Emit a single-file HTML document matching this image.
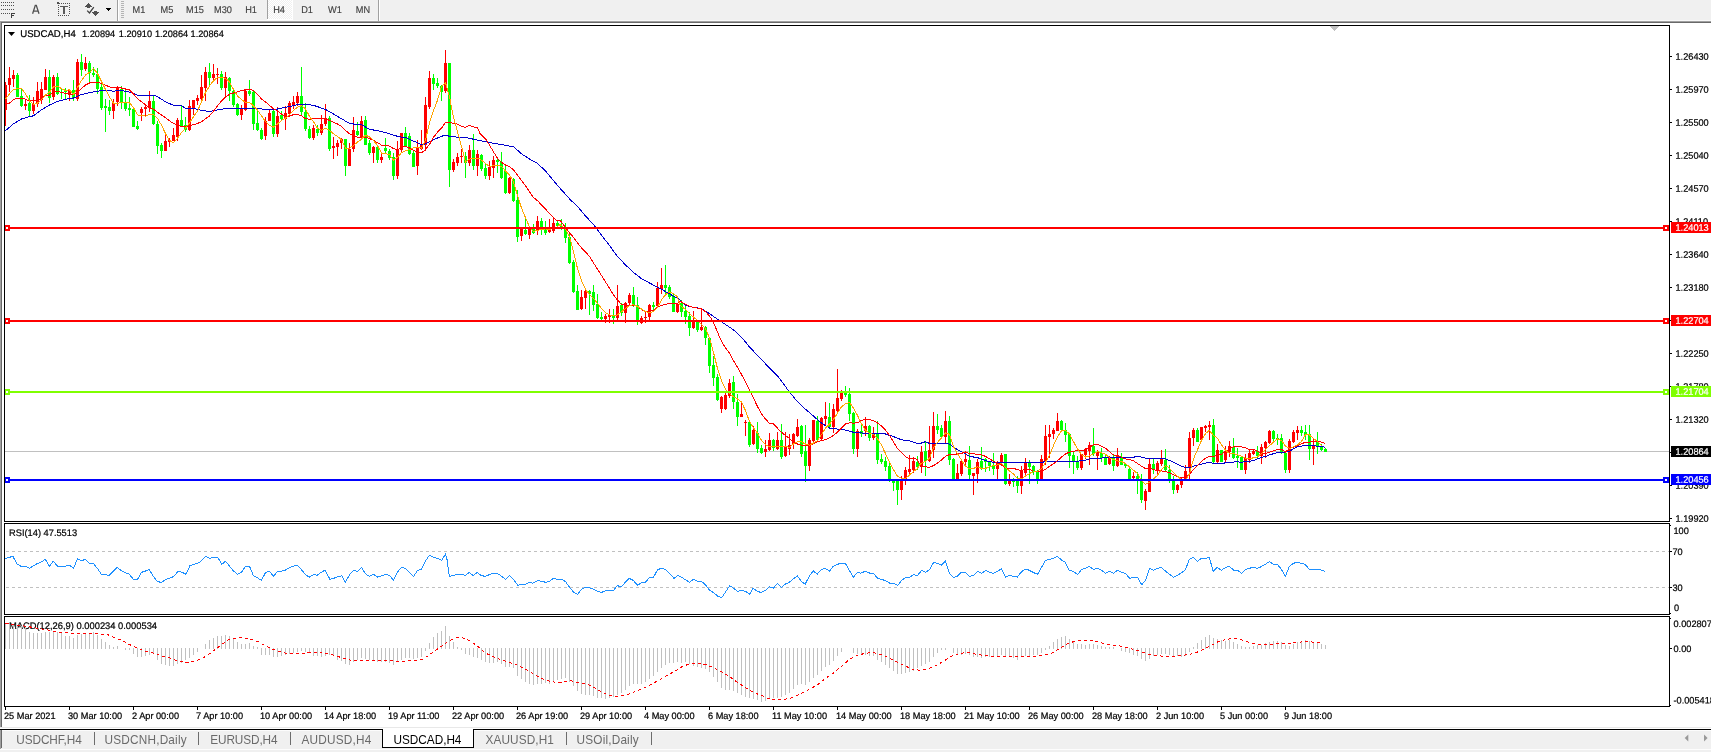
<!DOCTYPE html>
<html><head><meta charset="utf-8"><title>USDCAD,H4</title>
<style>
html,body{margin:0;padding:0;background:#fff;}
body{width:1711px;height:752px;position:relative;overflow:hidden;font-family:"Liberation Sans",sans-serif;}
#tb{position:absolute;left:0;top:0;width:1711px;height:20px;background:#f0f0f0;}
#tb1{position:absolute;left:0;top:20px;width:1711px;height:1px;background:#f8f8f8;}
#tb2{position:absolute;left:0;top:21px;width:1711px;height:1px;background:#a0a0a0;}
#tb3{position:absolute;left:0;top:22px;width:1711px;height:1px;background:#696969;}
#le0{position:absolute;left:0;top:21px;width:1px;height:706px;background:#a0a0a0;}
#le1{position:absolute;left:1px;top:22px;width:1px;height:705px;background:#696969;}
.fr{position:absolute;left:4px;width:1664px;border:1px solid #000;box-sizing:content-box;}
#f1{top:25px;height:495px;}
#f2{top:523px;height:90px;}
#f3{top:616px;height:89px;}
svg text{font-family:"Liberation Sans",sans-serif;}
#main{position:absolute;left:0;top:0;}
#tabs{position:absolute;left:0;top:727px;width:1711px;height:25px;background:#f0f0f0;}
#tabs .l0{position:absolute;left:0;top:0;width:1711px;height:1px;background:#e8e8e8;}
#tabs .l1{position:absolute;left:0;top:1px;width:1711px;height:1px;background:#fff;}
#tabs .l2{position:absolute;left:0;top:2px;width:1711px;height:1px;background:#000;}
#tabs .l3{position:absolute;left:0;top:3px;width:1711px;height:1px;background:#fcfcfc;}
#tabs .l4{position:absolute;left:0;top:22px;width:1711px;height:1px;background:#fdfdfd;}
#tabs .e0{position:absolute;left:0;top:3px;width:1px;height:19px;background:#a0a0a0;}
#tabs .e1{position:absolute;left:1px;top:3px;width:1px;height:18px;background:#696969;}
.tab{position:absolute;top:6px;font-size:11.8px;line-height:14px;color:#6a6a6a;white-space:nowrap;transform:scaleY(1.09);transform-origin:0 11px;}
.tab.act{color:#000;}
#acttab{position:absolute;left:382px;top:2px;width:90px;height:18px;background:#fff;border:1px solid #000;border-top:none;}
.sep{position:absolute;top:5px;width:1px;height:13px;background:#6d6d6d;}
.tbt{position:absolute;top:4px;font-size:10px;line-height:11px;color:#303030;width:28px;text-align:center;letter-spacing:-0.6px;will-change:transform;}
</style></head><body>
<div id="tb"></div><div id="tb1"></div><div id="tb2"></div><div id="tb3"></div>
<div id="le0"></div><div id="le1"></div>
<svg style="position:absolute;left:0;top:0" width="400" height="21" viewBox="0 0 400 21">
<g shape-rendering="crispEdges">
<path d="M1 2h1v1h-1zM3 2h1v1h-1zM5 2h1v1h-1zM7 2h1v1h-1zM9 2h1v1h-1zM11 2h1v1h-1zM13 2h1v1h-1zM1 5h1v1h-1zM3 5h1v1h-1zM5 5h1v1h-1zM7 5h1v1h-1zM9 5h1v1h-1zM11 5h1v1h-1zM13 5h1v1h-1zM1 9h1v1h-1zM3 9h1v1h-1zM5 9h1v1h-1zM7 9h1v1h-1zM9 9h1v1h-1zM11 9h1v1h-1zM13 9h1v1h-1zM1 13h1v1h-1zM3 13h1v1h-1zM5 13h1v1h-1zM7 13h1v1h-1zM9 13h1v1h-1z" fill="#505050"/>
<path d="M11 13h4v1h-3v1h2v1h-2v2h-1z" fill="#404040"/>
<path d="M61 3h1v1h-1zM63 3h1v1h-1zM65 3h1v1h-1zM67 3h1v1h-1zM69 3h1v1h-1zM58 15h1v1h-1zM60 15h1v1h-1zM62 15h1v1h-1zM64 15h1v1h-1zM66 15h1v1h-1zM68 15h1v1h-1zM58 5h1v1h-1zM69 5h1v1h-1zM58 7h1v1h-1zM69 7h1v1h-1zM58 9h1v1h-1zM69 9h1v1h-1zM58 11h1v1h-1zM69 11h1v1h-1zM58 13h1v1h-1zM69 13h1v1h-1zM57 2h2v2h-2zM59 3h1v1h-1z" fill="#505050"/>
<path d="M60 6h8v1h-3v7h-2v-7h-3z" fill="#5a5a5a"/>
<path d="M88 3h1v1h-1zM87 4h3v1h-3zM86 5h5v1h-5zM85 6h7v1h-7zM87 7h3v1h-3z" fill="#505050"/>
<path d="M94 11h3v1h-3zM92 12h7v1h-7zM93 13h5v1h-5zM94 14h3v1h-3zM95 15h1v1h-1z" fill="#505050"/>
<path d="M106 8h5v1h-5zM107 9h3v1h-3zM108 10h1v1h-1z" fill="#000"/>
<rect x="117" y="0" width="1" height="21" fill="#a0a0a0"/><rect x="118" y="0" width="1" height="21" fill="#ffffff"/>
<path d="M121 1h3v1h-3zM121 3h3v1h-3zM121 5h3v1h-3zM121 7h3v1h-3zM121 9h3v1h-3zM121 11h3v1h-3zM121 13h3v1h-3zM121 15h3v1h-3zM121 17h3v1h-3z" fill="#b4b4b4"/>
<rect x="267" y="0" width="1" height="19" fill="#a0a0a0"/>
<defs><pattern id="chk" width="2" height="2" patternUnits="userSpaceOnUse"><rect width="2" height="2" fill="#f0f0f0"/><rect width="1" height="1" fill="#fff"/><rect x="1" y="1" width="1" height="1" fill="#fff"/></pattern></defs><rect x="268" y="0" width="24" height="19" fill="url(#chk)"/>
<rect x="292" y="0" width="1" height="20" fill="#ffffff"/><rect x="267" y="19" width="26" height="1" fill="#ffffff"/>
<rect x="378" y="0" width="1" height="21" fill="#a0a0a0"/><rect x="379" y="0" width="1" height="21" fill="#ffffff"/>
</g>
<path d="M87.2 10.6l2.3 2.4 4.3-5.8" fill="none" stroke="#404040" stroke-width="1.3"/>
<path d="M32.6 13.7L35.3 5.4h1L39 13.7M33.7 11.2h4.2" stroke="#505050" stroke-width="1.3" fill="none"/>
</svg>
<svg style="position:absolute;left:0;top:0;will-change:transform" width="400" height="21" viewBox="0 0 400 21">
<text transform="translate(139 13) rotate(0.05) scale(1 1.06)" font-size="9.2" text-anchor="middle" fill="#404040" stroke="#404040" stroke-width="0.15" font-family="Liberation Sans">M1</text>
<text transform="translate(167 13) rotate(0.05) scale(1 1.06)" font-size="9.2" text-anchor="middle" fill="#404040" stroke="#404040" stroke-width="0.15" font-family="Liberation Sans">M5</text>
<text transform="translate(195 13) rotate(0.05) scale(1 1.06)" font-size="9.2" text-anchor="middle" fill="#404040" stroke="#404040" stroke-width="0.15" font-family="Liberation Sans">M15</text>
<text transform="translate(223 13) rotate(0.05) scale(1 1.06)" font-size="9.2" text-anchor="middle" fill="#404040" stroke="#404040" stroke-width="0.15" font-family="Liberation Sans">M30</text>
<text transform="translate(251 13) rotate(0.05) scale(1 1.06)" font-size="9.2" text-anchor="middle" fill="#404040" stroke="#404040" stroke-width="0.15" font-family="Liberation Sans">H1</text>
<text transform="translate(279 13) rotate(0.05) scale(1 1.06)" font-size="9.2" text-anchor="middle" fill="#404040" stroke="#404040" stroke-width="0.15" font-family="Liberation Sans">H4</text>
<text transform="translate(307 13) rotate(0.05) scale(1 1.06)" font-size="9.2" text-anchor="middle" fill="#404040" stroke="#404040" stroke-width="0.15" font-family="Liberation Sans">D1</text>
<text transform="translate(335 13) rotate(0.05) scale(1 1.06)" font-size="9.2" text-anchor="middle" fill="#404040" stroke="#404040" stroke-width="0.15" font-family="Liberation Sans">W1</text>
<text transform="translate(363 13) rotate(0.05) scale(1 1.06)" font-size="9.2" text-anchor="middle" fill="#404040" stroke="#404040" stroke-width="0.15" font-family="Liberation Sans">MN</text>
</svg>

<svg id="main" width="1711" height="752" viewBox="0 0 1711 752">
<text transform="translate(9 629) rotate(0.05) scale(1 1.02)" font-size="9.36" fill="#000" stroke="#000" stroke-width="0.22" text-anchor="start" >MACD(12,26,9) 0.000234 0.000534</text>
<g shape-rendering="crispEdges">
<rect x="5" y="451" width="1664" height="1" fill="#c0c0c0"/>
<path fill="#ff0000" d="M5 82h1v44h-1zM4 85h3v25h-3z"/><path fill="#ff0000" d="M9 67h1v25h-1zM8 78h3v7h-3z"/><path fill="#ff0000" d="M13 70h1v17h-1zM12 75h3v4h-3z"/><path fill="#00ff00" d="M17 73h1v24h-1zM16 75h3v22h-3z"/><path fill="#00ff00" d="M21 89h1v18h-1zM20 96h3v10h-3z"/><path fill="#ff0000" d="M25 99h1v11h-1zM24 104h3v2h-3z"/><path fill="#00ff00" d="M29 95h1v21h-1zM28 103h3v8h-3z"/><path fill="#ff0000" d="M33 97h1v17h-1zM32 104h3v7h-3z"/><path fill="#ff0000" d="M37 82h1v25h-1zM36 91h3v13h-3z"/><path fill="#ff0000" d="M41 82h1v22h-1zM40 89h3v11h-3z"/><path fill="#ff0000" d="M45 69h1v21h-1zM44 77h3v13h-3z"/><path fill="#00ff00" d="M49 70h1v33h-1zM48 77h3v21h-3z"/><path fill="#ff0000" d="M53 75h1v25h-1zM52 77h3v20h-3z"/><path fill="#00ff00" d="M57 73h1v22h-1zM56 77h3v17h-3z"/><path fill="#00ff00" d="M61 88h1v11h-1zM60 92h3v1h-3z"/><path fill="#00ff00" d="M65 88h1v11h-1zM64 90h3v2h-3z"/><path fill="#ff0000" d="M69 89h1v12h-1zM68 90h3v5h-3z"/><path fill="#00ff00" d="M73 80h1v21h-1zM72 90h3v8h-3z"/><path fill="#ff0000" d="M77 59h1v42h-1zM76 62h3v37h-3z"/><path fill="#00ff00" d="M81 54h1v22h-1zM80 62h3v8h-3z"/><path fill="#ff0000" d="M85 57h1v14h-1zM84 63h3v6h-3z"/><path fill="#00ff00" d="M89 61h1v22h-1zM88 63h3v10h-3z"/><path fill="#00ff00" d="M93 67h1v10h-1zM92 73h3v2h-3z"/><path fill="#00ff00" d="M97 68h1v26h-1zM96 74h3v15h-3z"/><path fill="#00ff00" d="M101 83h1v27h-1zM100 87h3v21h-3z"/><path fill="#00ff00" d="M105 99h1v33h-1zM104 106h3v2h-3z"/><path fill="#00ff00" d="M109 100h1v15h-1zM108 107h3v4h-3z"/><path fill="#ff0000" d="M113 99h1v20h-1zM112 103h3v8h-3z"/><path fill="#ff0000" d="M117 86h1v20h-1zM116 87h3v15h-3z"/><path fill="#00ff00" d="M121 86h1v23h-1zM120 89h3v14h-3z"/><path fill="#00ff00" d="M125 90h1v21h-1zM124 102h3v7h-3z"/><path fill="#00ff00" d="M129 97h1v19h-1zM128 108h3v2h-3z"/><path fill="#00ff00" d="M133 109h1v18h-1zM132 109h3v18h-3z"/><path fill="#00ff00" d="M137 121h1v9h-1zM136 126h3v3h-3z"/><path fill="#ff0000" d="M141 107h1v14h-1zM140 109h3v4h-3z"/><path fill="#ff0000" d="M145 105h1v11h-1zM144 107h3v2h-3z"/><path fill="#ff0000" d="M149 91h1v21h-1zM148 101h3v7h-3z"/><path fill="#00ff00" d="M153 96h1v29h-1zM152 101h3v23h-3z"/><path fill="#00ff00" d="M157 121h1v33h-1zM156 124h3v22h-3z"/><path fill="#00ff00" d="M161 143h1v15h-1zM160 145h3v6h-3z"/><path fill="#ff0000" d="M165 134h1v17h-1zM164 141h3v10h-3z"/><path fill="#ff0000" d="M169 138h1v9h-1zM168 140h3v2h-3z"/><path fill="#ff0000" d="M173 128h1v13h-1zM172 135h3v6h-3z"/><path fill="#ff0000" d="M177 118h1v23h-1zM176 120h3v17h-3z"/><path fill="#00ff00" d="M181 105h1v21h-1zM180 120h3v6h-3z"/><path fill="#00ff00" d="M185 117h1v15h-1zM184 125h3v5h-3z"/><path fill="#ff0000" d="M189 100h1v31h-1zM188 106h3v24h-3z"/><path fill="#ff0000" d="M193 100h1v15h-1zM192 100h3v9h-3z"/><path fill="#ff0000" d="M197 95h1v10h-1zM196 98h3v3h-3z"/><path fill="#ff0000" d="M201 75h1v26h-1zM200 87h3v12h-3z"/><path fill="#ff0000" d="M205 67h1v34h-1zM204 72h3v16h-3z"/><path fill="#00ff00" d="M209 63h1v24h-1zM208 72h3v6h-3z"/><path fill="#ff0000" d="M213 64h1v18h-1zM212 74h3v4h-3z"/><path fill="#ff0000" d="M217 68h1v16h-1zM216 74h3v1h-3z"/><path fill="#00ff00" d="M221 71h1v19h-1zM220 74h3v14h-3z"/><path fill="#ff0000" d="M225 72h1v24h-1zM224 77h3v11h-3z"/><path fill="#00ff00" d="M229 77h1v24h-1zM228 78h3v13h-3z"/><path fill="#00ff00" d="M233 89h1v18h-1zM232 91h3v14h-3z"/><path fill="#00ff00" d="M237 103h1v13h-1zM236 104h3v11h-3z"/><path fill="#ff0000" d="M241 105h1v15h-1zM240 108h3v7h-3z"/><path fill="#ff0000" d="M245 90h1v21h-1zM244 91h3v19h-3z"/><path fill="#00ff00" d="M249 80h1v16h-1zM248 91h3v3h-3z"/><path fill="#00ff00" d="M253 91h1v39h-1zM252 92h3v32h-3z"/><path fill="#00ff00" d="M257 109h1v22h-1zM256 123h3v7h-3z"/><path fill="#00ff00" d="M261 128h1v12h-1zM260 130h3v9h-3z"/><path fill="#ff0000" d="M265 117h1v23h-1zM264 121h3v15h-3z"/><path fill="#ff0000" d="M269 110h1v11h-1zM268 113h3v8h-3z"/><path fill="#00ff00" d="M273 109h1v28h-1zM272 111h3v23h-3z"/><path fill="#ff0000" d="M277 107h1v30h-1zM276 116h3v18h-3z"/><path fill="#00ff00" d="M281 111h1v10h-1zM280 115h3v4h-3z"/><path fill="#ff0000" d="M285 106h1v24h-1zM284 113h3v6h-3z"/><path fill="#ff0000" d="M289 101h1v16h-1zM288 103h3v11h-3z"/><path fill="#ff0000" d="M293 96h1v13h-1zM292 102h3v3h-3z"/><path fill="#ff0000" d="M297 92h1v14h-1zM296 96h3v7h-3z"/><path fill="#00ff00" d="M301 67h1v48h-1zM300 96h3v16h-3z"/><path fill="#00ff00" d="M305 103h1v28h-1zM304 112h3v17h-3z"/><path fill="#00ff00" d="M309 126h1v13h-1zM308 129h3v9h-3z"/><path fill="#ff0000" d="M313 125h1v15h-1zM312 128h3v10h-3z"/><path fill="#00ff00" d="M317 125h1v11h-1zM316 129h3v4h-3z"/><path fill="#ff0000" d="M321 115h1v20h-1zM320 124h3v9h-3z"/><path fill="#ff0000" d="M325 104h1v22h-1zM324 118h3v6h-3z"/><path fill="#00ff00" d="M329 116h1v35h-1zM328 118h3v31h-3z"/><path fill="#ff0000" d="M333 137h1v22h-1zM332 146h3v2h-3z"/><path fill="#ff0000" d="M337 140h1v16h-1zM336 143h3v4h-3z"/><path fill="#ff0000" d="M341 138h1v11h-1zM340 139h3v4h-3z"/><path fill="#00ff00" d="M345 139h1v37h-1zM344 139h3v27h-3z"/><path fill="#ff0000" d="M349 143h1v23h-1zM348 149h3v17h-3z"/><path fill="#ff0000" d="M353 117h1v35h-1zM352 130h3v19h-3z"/><path fill="#00ff00" d="M357 122h1v14h-1zM356 131h3v4h-3z"/><path fill="#ff0000" d="M361 116h1v21h-1zM360 121h3v16h-3z"/><path fill="#00ff00" d="M365 116h1v29h-1zM364 120h3v25h-3z"/><path fill="#00ff00" d="M369 140h1v15h-1zM368 143h3v10h-3z"/><path fill="#ff0000" d="M373 146h1v17h-1zM372 147h3v6h-3z"/><path fill="#00ff00" d="M377 146h1v17h-1zM376 147h3v13h-3z"/><path fill="#ff0000" d="M381 153h1v10h-1zM380 157h3v3h-3z"/><path fill="#00ff00" d="M385 138h1v15h-1zM384 148h3v3h-3z"/><path fill="#00ff00" d="M389 149h1v11h-1zM388 151h3v7h-3z"/><path fill="#00ff00" d="M393 153h1v27h-1zM392 157h3v19h-3z"/><path fill="#ff0000" d="M397 141h1v38h-1zM396 150h3v26h-3z"/><path fill="#ff0000" d="M401 133h1v20h-1zM400 133h3v17h-3z"/><path fill="#00ff00" d="M405 127h1v19h-1zM404 133h3v13h-3z"/><path fill="#00ff00" d="M409 133h1v22h-1zM408 136h3v18h-3z"/><path fill="#00ff00" d="M413 150h1v17h-1zM412 153h3v14h-3z"/><path fill="#ff0000" d="M417 140h1v35h-1zM416 148h3v18h-3z"/><path fill="#ff0000" d="M421 130h1v20h-1zM420 144h3v5h-3z"/><path fill="#ff0000" d="M425 97h1v54h-1zM424 105h3v40h-3z"/><path fill="#ff0000" d="M429 71h1v38h-1zM428 78h3v29h-3z"/><path fill="#00ff00" d="M433 74h1v16h-1zM432 78h3v6h-3z"/><path fill="#00ff00" d="M437 78h1v10h-1zM436 83h3v3h-3z"/><path fill="#00ff00" d="M441 85h1v16h-1zM440 86h3v6h-3z"/><path fill="#ff0000" d="M445 50h1v43h-1zM444 63h3v28h-3z"/><path fill="#00ff00" d="M449 63h1v124h-1zM448 63h3v107h-3z"/><path fill="#ff0000" d="M453 159h1v13h-1zM452 162h3v8h-3z"/><path fill="#ff0000" d="M457 153h1v13h-1zM456 157h3v6h-3z"/><path fill="#ff0000" d="M461 149h1v14h-1zM460 156h3v1h-3z"/><path fill="#00ff00" d="M465 152h1v26h-1zM464 156h3v7h-3z"/><path fill="#ff0000" d="M469 145h1v21h-1zM468 150h3v13h-3z"/><path fill="#00ff00" d="M473 134h1v36h-1zM472 150h3v16h-3z"/><path fill="#ff0000" d="M477 150h1v26h-1zM476 154h3v12h-3z"/><path fill="#00ff00" d="M481 154h1v17h-1zM480 155h3v14h-3z"/><path fill="#00ff00" d="M485 164h1v15h-1zM484 168h3v8h-3z"/><path fill="#ff0000" d="M489 161h1v19h-1zM488 167h3v9h-3z"/><path fill="#ff0000" d="M493 156h1v22h-1zM492 160h3v8h-3z"/><path fill="#00ff00" d="M497 157h1v16h-1zM496 160h3v2h-3z"/><path fill="#00ff00" d="M501 152h1v27h-1zM500 162h3v16h-3z"/><path fill="#00ff00" d="M505 165h1v29h-1zM504 171h3v22h-3z"/><path fill="#ff0000" d="M509 177h1v17h-1zM508 178h3v15h-3z"/><path fill="#00ff00" d="M513 178h1v24h-1zM512 179h3v22h-3z"/><path fill="#00ff00" d="M517 190h1v52h-1zM516 200h3v37h-3z"/><path fill="#ff0000" d="M521 228h1v13h-1zM520 229h3v7h-3z"/><path fill="#00ff00" d="M525 219h1v16h-1zM524 230h3v4h-3z"/><path fill="#ff0000" d="M529 226h1v13h-1zM528 227h3v8h-3z"/><path fill="#00ff00" d="M533 224h1v10h-1zM532 229h3v4h-3z"/><path fill="#ff0000" d="M537 216h1v19h-1zM536 221h3v10h-3z"/><path fill="#00ff00" d="M541 218h1v17h-1zM540 221h3v7h-3z"/><path fill="#00ff00" d="M545 221h1v14h-1zM544 228h3v5h-3z"/><path fill="#ff0000" d="M549 219h1v14h-1zM548 230h3v2h-3z"/><path fill="#ff0000" d="M553 218h1v15h-1zM552 223h3v8h-3z"/><path fill="#00ff00" d="M557 220h1v8h-1zM556 223h3v3h-3z"/><path fill="#00ff00" d="M561 219h1v11h-1zM560 226h3v2h-3z"/><path fill="#00ff00" d="M565 223h1v20h-1zM564 227h3v11h-3z"/><path fill="#00ff00" d="M569 232h1v32h-1zM568 237h3v26h-3z"/><path fill="#00ff00" d="M573 260h1v33h-1zM572 262h3v30h-3z"/><path fill="#00ff00" d="M577 285h1v25h-1zM576 291h3v19h-3z"/><path fill="#ff0000" d="M581 290h1v20h-1zM580 297h3v12h-3z"/><path fill="#ff0000" d="M585 290h1v19h-1zM584 291h3v7h-3z"/><path fill="#00ff00" d="M589 290h1v25h-1zM588 291h3v3h-3z"/><path fill="#00ff00" d="M593 285h1v26h-1zM592 292h3v13h-3z"/><path fill="#00ff00" d="M597 294h1v25h-1zM596 304h3v14h-3z"/><path fill="#00ff00" d="M601 312h1v8h-1zM600 317h3v2h-3z"/><path fill="#ff0000" d="M605 314h1v9h-1zM604 316h3v3h-3z"/><path fill="#ff0000" d="M609 309h1v14h-1zM608 315h3v2h-3z"/><path fill="#00ff00" d="M613 309h1v15h-1zM612 315h3v3h-3z"/><path fill="#ff0000" d="M617 285h1v37h-1zM616 306h3v12h-3z"/><path fill="#00ff00" d="M621 303h1v13h-1zM620 305h3v8h-3z"/><path fill="#ff0000" d="M625 302h1v21h-1zM624 303h3v10h-3z"/><path fill="#ff0000" d="M629 293h1v13h-1zM628 295h3v8h-3z"/><path fill="#00ff00" d="M633 287h1v20h-1zM632 295h3v11h-3z"/><path fill="#00ff00" d="M637 297h1v28h-1zM636 305h3v17h-3z"/><path fill="#ff0000" d="M641 316h1v8h-1zM640 318h3v5h-3z"/><path fill="#ff0000" d="M645 312h1v11h-1zM644 317h3v1h-3z"/><path fill="#ff0000" d="M649 304h1v16h-1zM648 305h3v12h-3z"/><path fill="#00ff00" d="M653 302h1v8h-1zM652 305h3v2h-3z"/><path fill="#ff0000" d="M657 282h1v25h-1zM656 288h3v18h-3z"/><path fill="#ff0000" d="M661 268h1v26h-1zM660 285h3v4h-3z"/><path fill="#00ff00" d="M665 265h1v29h-1zM664 285h3v3h-3z"/><path fill="#00ff00" d="M669 285h1v14h-1zM668 287h3v10h-3z"/><path fill="#00ff00" d="M673 293h1v19h-1zM672 296h3v16h-3z"/><path fill="#ff0000" d="M677 303h1v10h-1zM676 304h3v8h-3z"/><path fill="#00ff00" d="M681 300h1v17h-1zM680 303h3v9h-3z"/><path fill="#00ff00" d="M685 305h1v19h-1zM684 311h3v6h-3z"/><path fill="#00ff00" d="M689 312h1v24h-1zM688 316h3v12h-3z"/><path fill="#ff0000" d="M693 311h1v18h-1zM692 321h3v7h-3z"/><path fill="#00ff00" d="M697 320h1v12h-1zM696 321h3v9h-3z"/><path fill="#ff0000" d="M701 310h1v21h-1zM700 327h3v3h-3z"/><path fill="#00ff00" d="M705 326h1v19h-1zM704 327h3v11h-3z"/><path fill="#00ff00" d="M709 337h1v36h-1zM708 338h3v28h-3z"/><path fill="#00ff00" d="M713 356h1v30h-1zM712 365h3v13h-3z"/><path fill="#00ff00" d="M717 374h1v27h-1zM716 377h3v23h-3z"/><path fill="#ff0000" d="M721 396h1v17h-1zM720 397h3v12h-3z"/><path fill="#ff0000" d="M725 393h1v17h-1zM724 395h3v14h-3z"/><path fill="#ff0000" d="M729 379h1v19h-1zM728 383h3v13h-3z"/><path fill="#00ff00" d="M733 376h1v33h-1zM732 382h3v20h-3z"/><path fill="#00ff00" d="M737 394h1v32h-1zM736 402h3v15h-3z"/><path fill="#ff0000" d="M741 402h1v15h-1zM740 414h3v3h-3z"/><path fill="#ff0000" d="M745 420h1v16h-1zM744 422h3v1h-3z"/><path fill="#00ff00" d="M749 421h1v26h-1zM748 422h3v23h-3z"/><path fill="#ff0000" d="M753 426h1v19h-1zM752 430h3v14h-3z"/><path fill="#00ff00" d="M757 422h1v31h-1zM756 433h3v16h-3z"/><path fill="#00ff00" d="M761 445h1v9h-1zM760 448h3v5h-3z"/><path fill="#ff0000" d="M765 440h1v17h-1zM764 449h3v3h-3z"/><path fill="#ff0000" d="M769 433h1v18h-1zM768 440h3v10h-3z"/><path fill="#00ff00" d="M773 439h1v12h-1zM772 440h3v8h-3z"/><path fill="#ff0000" d="M777 432h1v18h-1zM776 440h3v9h-3z"/><path fill="#00ff00" d="M781 424h1v35h-1zM780 440h3v17h-3z"/><path fill="#ff0000" d="M785 432h1v25h-1zM784 447h3v9h-3z"/><path fill="#ff0000" d="M789 434h1v21h-1zM788 445h3v4h-3z"/><path fill="#ff0000" d="M793 433h1v16h-1zM792 434h3v10h-3z"/><path fill="#ff0000" d="M797 419h1v18h-1zM796 427h3v9h-3z"/><path fill="#00ff00" d="M801 425h1v32h-1zM800 426h3v28h-3z"/><path fill="#00ff00" d="M805 425h1v57h-1zM804 451h3v15h-3z"/><path fill="#ff0000" d="M809 438h1v33h-1zM808 440h3v26h-3z"/><path fill="#ff0000" d="M813 420h1v22h-1zM812 420h3v21h-3z"/><path fill="#00ff00" d="M817 416h1v26h-1zM816 421h3v19h-3z"/><path fill="#ff0000" d="M821 417h1v23h-1zM820 418h3v21h-3z"/><path fill="#ff0000" d="M825 402h1v23h-1zM824 416h3v3h-3z"/><path fill="#00ff00" d="M829 403h1v26h-1zM828 417h3v10h-3z"/><path fill="#ff0000" d="M833 404h1v29h-1zM832 409h3v18h-3z"/><path fill="#ff0000" d="M837 369h1v45h-1zM836 398h3v13h-3z"/><path fill="#ff0000" d="M841 390h1v11h-1zM840 392h3v7h-3z"/><path fill="#00ff00" d="M845 386h1v11h-1zM844 392h3v3h-3z"/><path fill="#00ff00" d="M849 388h1v33h-1zM848 394h3v20h-3z"/><path fill="#00ff00" d="M853 412h1v42h-1zM852 413h3v36h-3z"/><path fill="#ff0000" d="M857 429h1v28h-1zM856 431h3v18h-3z"/><path fill="#00ff00" d="M861 425h1v12h-1zM860 431h3v3h-3z"/><path fill="#ff0000" d="M865 417h1v19h-1zM864 426h3v5h-3z"/><path fill="#00ff00" d="M869 425h1v16h-1zM868 426h3v12h-3z"/><path fill="#ff0000" d="M873 427h1v13h-1zM872 433h3v5h-3z"/><path fill="#00ff00" d="M877 421h1v43h-1zM876 433h3v27h-3z"/><path fill="#00ff00" d="M881 454h1v10h-1zM880 459h3v3h-3z"/><path fill="#00ff00" d="M885 457h1v14h-1zM884 461h3v6h-3z"/><path fill="#00ff00" d="M889 462h1v20h-1zM888 466h3v13h-3z"/><path fill="#00ff00" d="M893 480h1v11h-1zM892 481h3v2h-3z"/><path fill="#00ff00" d="M897 480h1v25h-1zM896 481h3v9h-3z"/><path fill="#ff0000" d="M901 476h1v24h-1zM900 480h3v10h-3z"/><path fill="#ff0000" d="M905 467h1v18h-1zM904 470h3v9h-3z"/><path fill="#ff0000" d="M909 455h1v21h-1zM908 469h3v3h-3z"/><path fill="#ff0000" d="M913 458h1v15h-1zM912 461h3v9h-3z"/><path fill="#00ff00" d="M917 456h1v14h-1zM916 462h3v5h-3z"/><path fill="#ff0000" d="M921 446h1v27h-1zM920 452h3v15h-3z"/><path fill="#00ff00" d="M925 441h1v35h-1zM924 451h3v10h-3z"/><path fill="#ff0000" d="M929 426h1v36h-1zM928 450h3v11h-3z"/><path fill="#ff0000" d="M933 412h1v46h-1zM932 426h3v24h-3z"/><path fill="#00ff00" d="M937 414h1v20h-1zM936 426h3v4h-3z"/><path fill="#00ff00" d="M941 425h1v14h-1zM940 428h3v9h-3z"/><path fill="#ff0000" d="M945 411h1v32h-1zM944 421h3v16h-3z"/><path fill="#00ff00" d="M949 416h1v49h-1zM948 421h3v39h-3z"/><path fill="#00ff00" d="M953 458h1v21h-1zM952 459h3v20h-3z"/><path fill="#ff0000" d="M957 464h1v15h-1zM956 473h3v6h-3z"/><path fill="#ff0000" d="M961 460h1v16h-1zM960 461h3v13h-3z"/><path fill="#ff0000" d="M965 451h1v15h-1zM964 459h3v3h-3z"/><path fill="#00ff00" d="M969 446h1v33h-1zM968 460h3v15h-3z"/><path fill="#ff0000" d="M973 473h1v22h-1zM972 473h3v3h-3z"/><path fill="#ff0000" d="M977 459h1v24h-1zM976 462h3v12h-3z"/><path fill="#00ff00" d="M981 447h1v23h-1zM980 461h3v8h-3z"/><path fill="#00ff00" d="M985 458h1v14h-1zM984 459h3v3h-3z"/><path fill="#00ff00" d="M989 461h1v10h-1zM988 461h3v5h-3z"/><path fill="#00ff00" d="M993 453h1v22h-1zM992 466h3v3h-3z"/><path fill="#ff0000" d="M997 461h1v18h-1zM996 462h3v7h-3z"/><path fill="#ff0000" d="M1001 453h1v12h-1zM1000 455h3v7h-3z"/><path fill="#00ff00" d="M1005 454h1v31h-1zM1004 454h3v30h-3z"/><path fill="#ff0000" d="M1009 474h1v12h-1zM1008 481h3v3h-3z"/><path fill="#00ff00" d="M1013 478h1v9h-1zM1012 481h3v1h-3z"/><path fill="#00ff00" d="M1017 476h1v17h-1zM1016 481h3v5h-3z"/><path fill="#ff0000" d="M1021 466h1v28h-1zM1020 471h3v15h-3z"/><path fill="#ff0000" d="M1025 458h1v17h-1zM1024 462h3v11h-3z"/><path fill="#00ff00" d="M1029 460h1v24h-1zM1028 463h3v4h-3z"/><path fill="#00ff00" d="M1033 465h1v10h-1zM1032 466h3v6h-3z"/><path fill="#00ff00" d="M1037 470h1v14h-1zM1036 471h3v8h-3z"/><path fill="#ff0000" d="M1041 455h1v24h-1zM1040 459h3v20h-3z"/><path fill="#ff0000" d="M1045 425h1v40h-1zM1044 436h3v26h-3z"/><path fill="#ff0000" d="M1049 425h1v33h-1zM1048 434h3v3h-3z"/><path fill="#ff0000" d="M1053 428h1v11h-1zM1052 430h3v4h-3z"/><path fill="#ff0000" d="M1057 413h1v18h-1zM1056 421h3v10h-3z"/><path fill="#00ff00" d="M1061 420h1v11h-1zM1060 421h3v9h-3z"/><path fill="#00ff00" d="M1065 423h1v19h-1zM1064 430h3v5h-3z"/><path fill="#00ff00" d="M1069 434h1v34h-1zM1068 434h3v22h-3z"/><path fill="#00ff00" d="M1073 452h1v22h-1zM1072 455h3v6h-3z"/><path fill="#00ff00" d="M1077 456h1v14h-1zM1076 461h3v7h-3z"/><path fill="#ff0000" d="M1081 454h1v16h-1zM1080 454h3v14h-3z"/><path fill="#ff0000" d="M1085 448h1v11h-1zM1084 450h3v5h-3z"/><path fill="#ff0000" d="M1089 442h1v23h-1zM1088 445h3v6h-3z"/><path fill="#00ff00" d="M1093 428h1v28h-1zM1092 446h3v8h-3z"/><path fill="#ff0000" d="M1097 450h1v20h-1zM1096 452h3v4h-3z"/><path fill="#00ff00" d="M1101 448h1v14h-1zM1100 453h3v5h-3z"/><path fill="#00ff00" d="M1105 454h1v11h-1zM1104 458h3v7h-3z"/><path fill="#ff0000" d="M1109 456h1v9h-1zM1108 458h3v6h-3z"/><path fill="#00ff00" d="M1113 454h1v17h-1zM1112 458h3v8h-3z"/><path fill="#ff0000" d="M1117 448h1v19h-1zM1116 455h3v11h-3z"/><path fill="#00ff00" d="M1121 453h1v12h-1zM1120 458h3v7h-3z"/><path fill="#00ff00" d="M1125 463h1v5h-1zM1124 464h3v2h-3z"/><path fill="#00ff00" d="M1129 467h1v12h-1zM1128 469h3v10h-3z"/><path fill="#ff0000" d="M1133 472h1v7h-1zM1132 476h3v2h-3z"/><path fill="#00ff00" d="M1137 472h1v22h-1zM1136 476h3v3h-3z"/><path fill="#00ff00" d="M1141 474h1v29h-1zM1140 479h3v21h-3z"/><path fill="#ff0000" d="M1145 489h1v21h-1zM1144 491h3v10h-3z"/><path fill="#ff0000" d="M1149 459h1v33h-1zM1148 464h3v28h-3z"/><path fill="#00ff00" d="M1153 459h1v15h-1zM1152 464h3v6h-3z"/><path fill="#ff0000" d="M1157 461h1v13h-1zM1156 463h3v8h-3z"/><path fill="#ff0000" d="M1161 450h1v16h-1zM1160 458h3v6h-3z"/><path fill="#00ff00" d="M1165 449h1v22h-1zM1164 460h3v10h-3z"/><path fill="#00ff00" d="M1169 465h1v18h-1zM1168 470h3v9h-3z"/><path fill="#00ff00" d="M1173 476h1v18h-1zM1172 480h3v10h-3z"/><path fill="#ff0000" d="M1177 484h1v9h-1zM1176 485h3v5h-3z"/><path fill="#ff0000" d="M1181 477h1v11h-1zM1180 480h3v5h-3z"/><path fill="#ff0000" d="M1185 465h1v15h-1zM1184 471h3v8h-3z"/><path fill="#ff0000" d="M1189 432h1v47h-1zM1188 438h3v29h-3z"/><path fill="#ff0000" d="M1193 428h1v18h-1zM1192 430h3v8h-3z"/><path fill="#00ff00" d="M1197 428h1v14h-1zM1196 430h3v12h-3z"/><path fill="#ff0000" d="M1201 427h1v14h-1zM1200 427h3v13h-3z"/><path fill="#ff0000" d="M1205 425h1v7h-1zM1204 426h3v2h-3z"/><path fill="#ff0000" d="M1209 421h1v19h-1zM1208 425h3v2h-3z"/><path fill="#00ff00" d="M1213 419h1v44h-1zM1212 425h3v37h-3z"/><path fill="#ff0000" d="M1217 444h1v19h-1zM1216 450h3v12h-3z"/><path fill="#00ff00" d="M1221 450h1v12h-1zM1220 450h3v12h-3z"/><path fill="#ff0000" d="M1225 446h1v16h-1zM1224 451h3v9h-3z"/><path fill="#ff0000" d="M1229 441h1v16h-1zM1228 446h3v6h-3z"/><path fill="#00ff00" d="M1233 438h1v21h-1zM1232 447h3v11h-3z"/><path fill="#00ff00" d="M1237 448h1v20h-1zM1236 456h3v2h-3z"/><path fill="#00ff00" d="M1241 456h1v14h-1zM1240 457h3v13h-3z"/><path fill="#ff0000" d="M1245 454h1v20h-1zM1244 458h3v12h-3z"/><path fill="#ff0000" d="M1249 450h1v13h-1zM1248 453h3v7h-3z"/><path fill="#ff0000" d="M1253 449h1v6h-1zM1252 451h3v3h-3z"/><path fill="#00ff00" d="M1257 446h1v12h-1zM1256 451h3v5h-3z"/><path fill="#ff0000" d="M1261 444h1v20h-1zM1260 447h3v9h-3z"/><path fill="#ff0000" d="M1265 441h1v17h-1zM1264 442h3v6h-3z"/><path fill="#ff0000" d="M1269 430h1v14h-1zM1268 431h3v12h-3z"/><path fill="#00ff00" d="M1273 430h1v12h-1zM1272 431h3v8h-3z"/><path fill="#00ff00" d="M1277 434h1v11h-1zM1276 438h3v2h-3z"/><path fill="#00ff00" d="M1281 434h1v20h-1zM1280 438h3v14h-3z"/><path fill="#00ff00" d="M1285 452h1v21h-1zM1284 453h3v17h-3z"/><path fill="#ff0000" d="M1289 439h1v34h-1zM1288 441h3v29h-3z"/><path fill="#ff0000" d="M1293 430h1v13h-1zM1292 432h3v10h-3z"/><path fill="#ff0000" d="M1297 426h1v14h-1zM1296 430h3v3h-3z"/><path fill="#00ff00" d="M1301 426h1v10h-1zM1300 430h3v3h-3z"/><path fill="#00ff00" d="M1305 425h1v15h-1zM1304 432h3v3h-3z"/><path fill="#00ff00" d="M1309 425h1v35h-1zM1308 434h3v15h-3z"/><path fill="#ff0000" d="M1313 439h1v26h-1zM1312 446h3v3h-3z"/><path fill="#00ff00" d="M1317 432h1v22h-1zM1316 442h3v5h-3z"/><path fill="#00ff00" d="M1321 444h1v7h-1zM1320 447h3v3h-3z"/><path fill="#00ff00" d="M1325 448h1v4h-1zM1324 449h3v3h-3z"/>
</g>
<g shape-rendering="crispEdges">
<polyline points="5.5,130.7 13.5,123.7 21.5,119.0 29.5,116.7 33.5,115.8 41.5,109.7 49.5,105.0 57.5,101.5 65.5,99.2 73.5,98.0 81.5,94.5 89.5,92.7 97.5,91.2 105.4,90.4 113.5,91.2 121.5,90.4 129.4,92.1 137.5,95.1 149.5,95.1 154.4,95.1 157.6,96.9 165.5,101.7 173.5,105.4 181.5,105.7 185.5,108.3 193.5,108.3 197.4,109.5 201.5,110.2 209.5,111.5 217.4,110.0 225.5,108.5 233.5,108.6 241.4,108.8 249.5,108.5 257.5,108.5 265.4,109.4 273.5,109.8 281.5,108.2 289.4,106.5 297.5,104.7 305.5,104.4 313.5,105.3 321.4,108.0 325.5,109.4 333.5,114.0 341.4,118.7 349.5,123.4 357.5,124.6 361.5,124.6 369.5,129.3 377.5,130.7 385.4,132.5 393.5,135.1 397.5,136.3 401.5,137.2 405.5,137.2 413.4,141.0 421.5,144.5 425.5,143.9 433.4,139.8 441.5,136.3 445.5,135.1 449.5,136.3 457.4,137.2 465.5,137.4 473.4,139.2 479.5,140.5 492.8,143.2 505.5,145.3 514.0,147.0 521.5,153.8 529.6,159.1 537.4,163.4 545.5,170.9 553.4,180.4 558.7,186.8 570.6,200.0 577.4,206.4 585.5,216.0 593.4,224.5 601.5,235.1 609.6,245.7 617.4,256.4 625.5,264.9 633.4,272.3 641.5,278.7 649.6,283.0 657.4,287.2 665.5,291.5 673.4,296.2 679.1,299.1 685.5,305.3 693.4,307.4 701.5,308.5 709.6,313.8 717.4,319.1 725.5,324.5 733.4,329.8 741.5,337.2 749.4,346.8 757.4,355.3 765.5,363.8 769.6,368.1 778.5,377.0 787.0,388.7 795.5,399.4 804.0,407.9 812.6,415.3 821.1,422.8 829.6,428.1 838.1,429.1 846.6,430.2 853.4,432.3 861.5,433.0 869.6,433.4 877.4,433.4 885.5,434.0 893.4,436.6 901.5,439.8 909.6,440.9 917.4,443.4 920.0,443.5 925.5,441.7 929.5,443.5 937.5,443.5 945.4,443.5 949.5,444.1 957.6,449.7 965.5,453.9 969.5,456.4 977.5,457.6 985.5,460.7 993.5,462.3 1001.5,462.3 1009.6,462.3 1017.5,462.5 1025.5,462.5 1033.5,462.5 1041.5,462.5 1045.5,461.5 1053.5,461.5 1061.5,461.5 1069.5,461.3 1077.6,461.3 1081.5,460.4 1085.5,460.3 1089.6,458.8 1093.5,458.2 1097.5,458.5 1109.4,457.3 1117.6,457.3 1125.5,457.8 1133.5,457.3 1137.5,456.2 1145.5,458.2 1153.5,458.2 1161.4,458.2 1165.6,458.9 1173.5,462.2 1181.5,466.2 1185.5,467.5 1189.5,467.5 1193.5,466.2 1201.5,464.2 1209.4,462.2 1213.6,463.5 1221.5,463.5 1229.5,462.2 1233.5,462.2 1237.5,461.3 1240.0,462.7 1245.5,461.3 1249.5,461.3 1253.5,460.5 1257.5,458.9 1261.5,457.3 1265.5,456.5 1269.5,454.9 1273.5,453.7 1277.5,452.5 1281.5,452.1 1285.5,452.1 1289.5,451.3 1293.5,448.9 1297.5,446.9 1301.5,446.1 1305.5,445.2 1309.5,445.2 1313.5,445.2 1317.5,446.3 1321.5,446.3 1324.6,447.3" fill="none" stroke="#0000cd" stroke-width="1" />
<polyline points="5.5,103.8 9.4,103.2 13.5,99.7 17.6,98.2 21.5,98.2 25.5,99.2 29.5,101.1 33.5,100.3 37.4,100.3 41.5,98.0 45.5,95.6 49.5,95.1 53.5,92.7 57.5,91.2 61.4,92.7 65.5,93.3 69.5,94.2 73.5,94.2 77.5,92.7 81.5,88.6 85.4,85.1 89.5,83.0 93.5,82.2 97.5,82.2 101.5,83.6 105.4,85.1 109.4,86.9 113.5,88.0 117.5,87.2 121.5,88.0 125.5,89.0 129.4,89.8 133.4,93.9 137.5,98.6 145.5,104.9 149.5,107.6 153.5,109.1 157.6,112.3 161.5,115.0 165.5,117.7 169.5,120.9 173.5,123.5 177.4,125.1 181.5,126.7 185.5,127.0 189.5,125.6 193.5,124.6 197.4,123.5 201.5,121.7 205.5,118.8 209.5,115.9 213.5,111.2 217.4,105.9 221.4,101.2 225.5,97.1 229.5,94.2 233.5,93.0 237.5,91.9 241.4,90.7 245.5,89.8 249.5,89.2 253.5,90.7 257.5,94.2 261.5,98.9 265.4,101.8 269.5,105.3 273.5,108.8 277.5,110.6 281.5,114.1 285.4,117.0 289.4,115.9 293.5,114.7 297.5,114.4 301.5,115.8 305.5,118.7 309.5,119.3 313.5,118.7 317.4,118.1 321.4,118.1 325.5,118.5 329.5,120.5 333.5,122.2 337.5,124.0 341.4,126.3 345.5,130.4 349.5,133.9 353.5,135.1 357.5,137.4 361.5,137.4 365.4,137.2 369.5,138.6 373.5,140.4 377.5,142.7 381.5,145.1 385.4,145.1 389.4,146.2 393.5,148.6 397.5,149.7 401.5,147.4 405.5,146.6 409.4,148.0 413.4,150.3 417.5,152.1 421.5,152.7 425.5,149.7 429.4,144.5 433.4,137.4 437.5,132.2 441.5,128.1 445.5,122.6 449.5,122.2 453.4,123.4 457.4,124.0 461.5,126.3 465.5,127.5 469.5,125.2 473.4,126.9 477.4,127.5 480.0,133.6 486.4,140.0 489.6,145.3 493.4,151.7 497.4,158.1 501.5,162.3 505.5,165.1 509.6,166.6 513.4,169.8 517.4,175.1 521.5,180.4 525.5,185.7 529.6,192.1 533.4,197.4 537.4,200.6 541.5,204.9 545.5,209.1 549.4,213.4 553.4,217.7 557.4,220.9 560.0,220.2 565.5,227.7 569.6,233.0 573.4,237.2 577.4,242.6 581.5,247.9 585.5,252.1 589.6,256.4 593.4,262.8 597.4,269.1 601.5,275.5 605.5,281.9 609.6,288.3 613.4,294.7 617.4,300.0 621.5,304.3 625.5,305.3 629.4,305.3 633.4,305.3 637.4,306.4 641.5,309.6 645.5,311.7 649.6,311.7 653.4,310.2 657.4,307.4 661.5,305.3 665.5,304.3 669.6,303.2 673.4,303.2 677.4,303.6 680.0,301.1 685.5,304.3 689.6,306.4 693.4,307.4 697.4,308.1 701.5,308.9 705.5,311.7 709.6,316.0 713.4,322.3 717.4,331.9 721.5,341.5 725.5,347.9 729.6,353.2 733.4,360.6 737.4,367.0 741.5,374.5 745.5,381.9 749.4,389.4 753.4,397.9 757.4,406.4 761.5,413.8 765.5,419.1 769.6,423.4 773.4,423.8 777.4,428.1 781.5,432.3 785.5,435.5 789.6,438.7 793.4,441.9 797.4,444.0 801.5,445.1 805.5,445.7 809.6,445.7 813.4,444.0 817.4,441.9 821.5,440.4 825.5,439.8 829.6,437.7 833.4,435.5 837.4,432.3 841.5,428.1 845.5,423.8 849.6,422.8 853.4,423.2 857.4,422.8 861.5,420.2 865.5,419.6 869.6,419.6 873.4,420.6 877.4,422.8 881.5,426.0 885.5,430.2 889.6,435.5 893.4,441.9 897.4,448.3 901.5,452.6 905.5,456.8 909.6,458.9 913.4,457.9 917.4,459.6 920.0,465.6 925.5,466.8 929.5,467.4 933.5,465.6 937.5,463.1 941.5,460.1 945.4,456.4 949.5,454.5 953.5,454.3 957.6,453.9 961.5,453.3 965.5,452.1 969.5,453.6 973.5,453.9 977.5,454.3 981.5,454.9 985.5,456.4 989.5,458.8 993.5,461.3 997.6,463.1 1001.5,464.9 1005.5,468.0 1009.6,468.2 1013.5,468.2 1017.5,469.8 1021.5,470.5 1025.5,469.2 1029.5,469.5 1033.5,471.1 1037.6,471.3 1041.5,471.1 1045.5,469.2 1049.6,466.2 1053.5,463.7 1057.5,460.7 1061.5,457.0 1065.6,453.9 1069.5,452.1 1073.5,451.2 1077.6,450.5 1081.5,450.5 1085.5,449.7 1089.6,447.2 1093.5,444.8 1097.5,444.1 1105.5,448.2 1109.4,451.6 1113.4,454.9 1117.6,455.6 1121.5,457.3 1125.5,458.9 1129.5,459.5 1133.5,460.9 1137.5,463.5 1141.5,466.2 1145.5,468.5 1149.5,468.2 1153.5,469.5 1157.4,470.9 1161.4,470.9 1165.6,471.5 1169.5,472.8 1173.5,474.8 1177.5,476.8 1181.5,477.5 1185.5,476.8 1189.5,474.2 1193.5,469.5 1197.5,465.5 1201.5,461.5 1205.5,458.2 1209.4,456.5 1213.6,456.2 1217.6,455.6 1221.5,454.2 1225.5,451.6 1229.5,448.9 1233.5,446.9 1237.5,446.2 1240.0,446.5 1245.5,447.7 1249.5,449.7 1253.5,449.3 1257.5,451.3 1261.5,452.9 1265.5,453.7 1269.5,452.1 1273.5,450.9 1277.5,449.3 1281.5,449.3 1285.5,452.1 1289.5,448.5 1293.5,447.3 1297.5,445.7 1301.5,443.7 1305.5,442.3 1309.5,442.1 1313.5,441.2 1317.5,441.2 1321.5,442.1 1324.6,443.3" fill="none" stroke="#ff0000" stroke-width="1" />
<polyline points="5.5,99.2 9.4,93.9 13.5,89.8 17.6,88.4 21.5,88.6 25.5,93.9 29.5,100.9 33.5,104.4 37.4,103.2 41.5,99.7 45.5,95.1 49.5,92.1 53.5,86.9 57.5,86.3 61.4,88.6 65.5,90.4 69.5,89.8 73.5,94.5 77.5,87.4 81.5,80.4 85.4,75.2 89.5,72.2 93.5,68.7 97.5,73.4 101.5,81.6 105.4,89.2 109.4,96.8 113.5,103.2 117.5,103.8 121.5,102.1 125.5,102.4 129.4,102.7 133.4,107.3 137.5,115.0 145.5,116.1 149.5,114.5 153.5,114.7 157.6,118.7 161.5,125.1 165.5,133.6 169.5,140.5 173.5,142.7 177.4,138.4 181.5,132.6 185.5,128.3 189.5,123.0 193.5,116.6 197.4,111.3 201.5,101.8 205.5,92.4 209.5,86.0 213.5,80.7 217.4,77.6 221.4,77.2 225.5,78.4 229.5,81.9 233.5,89.5 237.5,96.0 241.4,99.5 245.5,102.4 249.5,102.4 253.5,105.9 257.5,110.0 261.5,115.9 265.4,121.7 269.5,125.2 273.5,127.0 277.5,124.0 281.5,120.5 285.4,118.2 289.4,114.7 293.5,110.6 297.5,107.1 301.5,105.6 305.5,108.8 309.5,116.4 313.5,121.7 317.4,128.1 321.4,130.2 325.5,128.1 329.5,130.4 333.5,133.9 337.5,136.3 341.4,139.8 345.5,148.0 349.5,148.2 353.5,145.6 357.5,142.1 361.5,139.2 365.4,135.1 369.5,136.9 373.5,140.4 377.5,145.6 381.5,153.2 385.4,153.8 389.4,154.4 393.5,160.3 397.5,157.3 401.5,152.7 405.5,150.6 409.4,149.7 413.4,148.0 417.5,147.4 421.5,148.0 425.5,139.8 429.4,123.4 433.4,110.5 436.6,102.9 441.5,86.8 445.5,82.6 449.6,97.4 453.4,116.6 457.4,131.5 461.5,146.4 465.5,162.3 469.4,159.1 473.4,158.1 477.4,158.5 480.0,159.1 485.5,163.4 489.6,166.6 493.4,165.5 497.4,165.1 501.5,166.6 505.5,170.9 509.6,175.1 513.4,181.5 517.4,195.3 521.5,208.1 525.5,217.7 529.6,227.2 533.4,231.5 537.4,230.4 541.5,229.4 545.5,228.9 549.4,229.4 553.4,228.3 557.4,226.8 560.0,224.5 565.5,228.7 569.6,237.2 573.4,251.1 577.4,268.1 581.5,280.9 585.5,289.4 589.6,294.7 593.4,298.3 597.4,303.2 601.5,308.5 605.5,312.8 609.6,314.9 613.4,316.0 617.4,314.9 621.5,311.7 625.5,308.5 629.4,305.7 633.4,304.7 637.4,306.4 641.5,308.9 645.5,311.7 649.6,312.8 653.4,311.7 657.4,307.4 661.5,300.0 665.5,294.7 669.6,291.9 673.4,293.6 677.4,296.8 680.0,305.3 685.5,309.6 689.6,313.8 693.4,317.0 697.4,320.2 701.5,324.5 705.5,328.7 709.6,338.3 713.4,352.1 717.4,368.1 721.5,380.9 725.5,389.4 729.6,393.6 733.4,396.8 737.4,398.9 741.5,402.1 745.5,410.6 749.4,421.3 753.4,427.7 757.4,433.0 761.5,440.4 765.5,444.7 769.6,446.8 773.4,446.2 777.4,446.6 781.5,446.6 785.5,446.8 789.6,447.2 793.4,444.0 797.4,441.9 801.5,441.9 805.5,444.0 809.6,445.1 813.4,443.0 817.4,440.9 821.5,434.5 825.5,428.1 829.6,423.8 833.4,419.6 837.4,413.2 841.5,406.8 845.5,403.6 849.6,402.6 853.4,407.9 857.4,415.3 861.5,423.8 865.5,430.2 869.6,433.4 873.4,434.5 877.4,438.7 881.5,445.1 885.5,453.6 889.6,462.1 893.4,469.6 897.4,476.0 901.5,478.1 905.5,478.5 909.6,474.9 913.4,471.7 917.4,468.5 920.0,464.3 925.5,461.3 929.5,458.2 933.5,447.8 937.5,442.3 941.5,438.0 945.4,432.9 949.5,434.4 953.5,446.6 957.6,453.9 961.5,460.1 965.5,466.2 969.5,468.9 973.5,468.4 977.5,466.8 981.5,468.4 985.5,468.4 989.5,466.8 993.5,465.6 997.6,464.9 1001.5,463.5 1005.5,467.4 1009.6,471.1 1013.5,474.1 1017.5,478.4 1021.5,479.0 1025.5,476.0 1029.5,473.5 1033.5,471.7 1037.6,471.1 1041.5,468.6 1045.5,462.5 1049.6,455.2 1053.5,445.4 1057.5,436.8 1061.5,430.7 1065.6,430.7 1069.5,433.7 1073.5,441.7 1077.6,449.0 1081.5,454.5 1085.5,457.0 1089.6,455.8 1093.5,453.9 1097.5,451.5 1105.5,454.2 1109.4,457.6 1113.4,459.5 1117.6,460.9 1121.5,461.5 1125.5,463.5 1129.5,466.9 1133.5,470.2 1137.5,473.5 1141.5,480.2 1145.5,484.4 1149.5,482.2 1153.5,478.8 1157.4,475.5 1161.4,469.5 1165.6,465.5 1169.5,468.2 1173.5,472.8 1177.5,476.2 1181.5,479.5 1185.5,480.8 1189.5,473.5 1193.5,458.9 1197.5,449.6 1201.5,440.3 1205.5,433.6 1209.4,430.3 1213.6,435.6 1217.6,438.3 1221.5,444.9 1225.5,450.2 1229.5,453.6 1233.5,453.6 1237.5,454.9 1240.0,455.7 1245.5,458.1 1249.5,458.9 1253.5,457.7 1257.5,456.9 1261.5,453.3 1265.5,449.7 1269.5,445.7 1273.5,442.1 1277.5,438.9 1281.5,440.5 1285.5,446.1 1289.5,448.5 1293.5,446.9 1297.5,444.9 1301.5,441.3 1305.5,434.6 1309.5,435.0 1313.5,438.5 1317.5,441.3 1321.8,445.7" fill="none" stroke="#ffa500" stroke-width="1" />
</g>
<g shape-rendering="crispEdges">
<rect x="5" y="227" width="1664" height="2" fill="#ff0000"/><rect x="4" y="225" width="6" height="6" fill="#ff0000"/><rect x="6" y="227" width="2" height="2" fill="#fff"/><rect x="1663" y="225" width="6" height="6" fill="#ff0000"/><rect x="1665" y="227" width="2" height="2" fill="#fff"/>
<rect x="5" y="320" width="1664" height="2" fill="#ff0000"/><rect x="4" y="318" width="6" height="6" fill="#ff0000"/><rect x="6" y="320" width="2" height="2" fill="#fff"/><rect x="1663" y="318" width="6" height="6" fill="#ff0000"/><rect x="1665" y="320" width="2" height="2" fill="#fff"/>
<rect x="5" y="391" width="1664" height="2" fill="#7fff00"/><rect x="4" y="389" width="6" height="6" fill="#7fff00"/><rect x="6" y="391" width="2" height="2" fill="#fff"/><rect x="1663" y="389" width="6" height="6" fill="#7fff00"/><rect x="1665" y="391" width="2" height="2" fill="#fff"/>
<rect x="5" y="479" width="1664" height="2" fill="#0000ff"/><rect x="4" y="477" width="6" height="6" fill="#0000ff"/><rect x="6" y="479" width="2" height="2" fill="#fff"/><rect x="1663" y="477" width="6" height="6" fill="#0000ff"/><rect x="1665" y="479" width="2" height="2" fill="#fff"/>
</g>
<path shape-rendering="crispEdges" fill="#c0c0c0" d="M1330 26h9v1h-9zM1331 27h7v1h-7zM1332 28h5v1h-5zM1333 29h3v1h-3zM1334 30h1v1h-1z"/>
<g shape-rendering="crispEdges">
<line x1="6" x2="1669" y1="551.5" y2="551.5" stroke="#c0c0c0" stroke-dasharray="3 3"/>
<line x1="6" x2="1669" y1="587.5" y2="587.5" stroke="#c0c0c0" stroke-dasharray="3 3"/>
</g>
<polyline points="5.0,558.5 8.9,557.5 12.9,556.3 16.9,563.9 20.9,566.2 25.8,566.4 29.8,568.2 35.8,564.3 40.8,562.3 45.3,559.3 49.3,566.4 53.3,561.3 57.7,566.2 65.6,566.2 69.2,565.0 73.6,568.2 77.5,558.5 81.5,560.9 85.1,559.3 89.5,563.3 93.4,563.5 97.4,568.4 101.4,574.4 105.4,574.4 108.9,575.6 117.3,567.4 121.3,570.8 125.2,572.8 129.2,574.2 133.6,579.4 137.6,579.4 141.2,572.4 145.1,571.2 149.1,569.4 153.1,575.8 157.1,581.2 161.0,582.5 167.0,578.8 171.0,577.8 174.6,575.8 177.9,571.2 181.9,572.2 185.9,574.2 189.9,565.8 193.8,564.3 197.8,563.3 200.8,561.3 205.8,556.3 209.7,558.5 212.7,557.3 217.7,557.3 221.7,564.3 225.6,561.3 229.6,566.2 233.6,571.2 237.6,574.2 241.6,572.2 245.5,566.2 249.5,566.2 253.5,575.8 257.5,577.8 261.4,580.4 265.4,572.8 269.4,571.2 273.4,576.4 277.3,571.4 281.3,571.2 285.3,570.2 289.3,567.8 293.2,566.2 297.2,565.2 301.2,569.4 305.2,574.4 309.1,577.2 314.1,574.2 317.1,575.4 321.1,572.4 325.0,570.2 330.0,579.4 334.0,578.2 339.0,576.4 342.0,575.8 345.4,582.3 349.5,574.8 353.5,570.2 357.5,571.4 361.5,567.4 365.4,573.8 369.4,576.4 373.4,574.4 377.8,577.2 381.7,575.8 385.7,574.2 389.7,575.4 393.3,580.4 397.7,571.8 401.6,567.2 405.6,568.4 409.6,572.4 413.6,576.4 417.5,570.4 421.5,569.0 425.5,560.9 429.5,555.1 433.4,557.3 437.4,558.3 441.8,560.3 445.4,554.3 446.8,557.9 449.3,576.4 453.3,575.4 457.3,574.4 461.3,574.4 465.2,575.4 469.2,572.4 473.2,575.4 477.2,572.4 481.2,575.4 485.1,576.4 489.1,574.8 493.1,573.4 497.1,573.4 501.0,575.8 505.4,579.4 509.4,575.4 513.4,579.4 517.9,585.3 521.9,584.5 525.9,584.1 528.9,582.3 532.8,583.3 537.8,580.4 541.8,581.4 545.8,582.3 549.7,581.2 553.7,578.2 557.7,579.4 561.7,579.4 565.6,581.7 569.6,587.3 573.6,592.1 577.6,594.3 581.6,589.3 585.5,587.3 589.5,587.7 593.5,589.3 597.5,591.3 601.4,592.5 605.4,590.7 609.4,590.5 613.4,590.5 617.3,585.7 621.3,586.7 625.3,582.3 629.3,578.4 633.2,580.4 637.6,585.3 641.6,582.5 645.6,582.1 649.5,577.4 653.5,577.2 657.5,569.8 661.5,568.2 665.4,569.4 669.4,573.2 674.0,578.4 678.0,575.4 680.0,576.4 685.0,579.4 689.5,582.3 693.5,579.4 697.9,581.4 701.9,581.7 705.8,585.3 709.8,590.5 713.8,592.7 717.8,596.3 721.7,597.7 725.7,591.7 729.7,585.7 733.7,588.3 737.7,591.3 741.6,590.3 745.6,591.3 749.6,594.1 753.2,588.3 757.1,591.3 761.1,592.5 765.5,590.3 769.5,586.7 773.4,588.3 777.4,583.3 781.4,587.3 785.4,584.1 789.3,582.3 793.3,578.8 797.3,575.8 801.3,581.4 805.2,584.1 809.2,576.4 813.2,570.8 817.2,574.2 821.2,569.8 825.1,568.2 829.5,571.2 833.1,566.4 837.1,564.3 841.0,563.5 845.4,563.5 849.0,569.8 853.4,577.2 857.3,572.4 860.9,573.2 865.3,571.2 869.9,573.2 873.8,573.8 877.8,578.4 881.8,579.4 885.8,580.8 889.7,583.1 893.7,583.3 897.7,585.3 901.7,580.4 905.6,577.4 909.6,577.2 913.6,574.8 917.6,575.4 921.6,570.4 925.5,572.4 929.5,569.8 933.5,562.5 937.5,563.3 941.4,565.2 945.4,561.3 949.4,573.4 953.4,577.4 957.3,576.4 961.3,572.4 965.3,572.4 969.7,576.4 973.6,575.4 977.6,571.2 981.6,573.4 985.6,570.4 989.5,572.2 993.5,573.4 997.5,571.2 1001.5,568.8 1005.4,577.2 1009.4,575.4 1013.4,576.2 1017.4,577.2 1020.0,573.4 1024.0,569.8 1028.0,569.8 1032.9,572.2 1037.5,574.4 1041.5,567.4 1045.4,560.5 1049.4,559.3 1053.4,558.5 1057.4,556.3 1061.4,559.9 1065.3,562.3 1069.3,570.2 1073.3,571.4 1077.7,574.4 1081.6,569.4 1085.6,568.4 1089.2,566.2 1093.6,569.4 1097.5,568.4 1101.5,570.2 1105.5,573.2 1109.5,571.2 1113.4,573.2 1117.4,570.4 1121.4,572.2 1125.4,573.4 1129.7,578.4 1133.3,577.2 1137.7,577.4 1141.7,584.7 1145.6,580.4 1149.6,568.4 1153.6,570.2 1157.6,568.4 1161.6,567.4 1165.5,571.2 1169.5,574.2 1173.5,577.4 1177.5,575.4 1181.4,572.8 1185.4,569.8 1189.4,559.3 1193.4,557.3 1197.3,561.3 1201.3,558.5 1205.9,558.3 1209.3,557.5 1213.2,571.2 1217.2,567.4 1221.2,570.4 1225.2,567.8 1229.1,566.2 1233.7,570.2 1237.7,570.4 1241.7,573.4 1245.6,569.4 1249.6,568.2 1253.6,567.4 1257.6,568.4 1261.6,566.4 1265.5,564.3 1269.5,561.5 1273.5,564.3 1277.5,564.5 1281.4,569.4 1285.4,576.4 1289.4,566.4 1293.4,563.3 1297.3,562.3 1301.3,563.3 1305.3,564.5 1309.3,569.4 1314.2,569.4 1319.2,569.4 1322.2,570.4 1324.8,571.2" fill="none" stroke="#1e90ff" stroke-width="1" shape-rendering="crispEdges"/>
<g shape-rendering="crispEdges"><rect x="5" y="624" width="1" height="25" fill="#c0c0c0"/><rect x="9" y="624" width="1" height="25" fill="#c0c0c0"/><rect x="13" y="625" width="1" height="24" fill="#c0c0c0"/><rect x="17" y="625" width="1" height="24" fill="#c0c0c0"/><rect x="21" y="626" width="1" height="23" fill="#c0c0c0"/><rect x="25" y="628" width="1" height="21" fill="#c0c0c0"/><rect x="29" y="632" width="1" height="17" fill="#c0c0c0"/><rect x="33" y="633" width="1" height="16" fill="#c0c0c0"/><rect x="37" y="633" width="1" height="16" fill="#c0c0c0"/><rect x="41" y="633" width="1" height="16" fill="#c0c0c0"/><rect x="45" y="632" width="1" height="17" fill="#c0c0c0"/><rect x="49" y="632" width="1" height="17" fill="#c0c0c0"/><rect x="53" y="631" width="1" height="18" fill="#c0c0c0"/><rect x="57" y="632" width="1" height="17" fill="#c0c0c0"/><rect x="61" y="633" width="1" height="16" fill="#c0c0c0"/><rect x="65" y="636" width="1" height="13" fill="#c0c0c0"/><rect x="69" y="636" width="1" height="13" fill="#c0c0c0"/><rect x="73" y="638" width="1" height="11" fill="#c0c0c0"/><rect x="77" y="635" width="1" height="14" fill="#c0c0c0"/><rect x="81" y="634" width="1" height="15" fill="#c0c0c0"/><rect x="85" y="633" width="1" height="16" fill="#c0c0c0"/><rect x="89" y="633" width="1" height="16" fill="#c0c0c0"/><rect x="93" y="632" width="1" height="17" fill="#c0c0c0"/><rect x="97" y="635" width="1" height="14" fill="#c0c0c0"/><rect x="101" y="639" width="1" height="10" fill="#c0c0c0"/><rect x="105" y="642" width="1" height="7" fill="#c0c0c0"/><rect x="109" y="645" width="1" height="4" fill="#c0c0c0"/><rect x="113" y="647" width="1" height="2" fill="#c0c0c0"/><rect x="117" y="646" width="1" height="3" fill="#c0c0c0"/><rect x="125" y="648" width="1" height="2" fill="#c0c0c0"/><rect x="129" y="648" width="1" height="2" fill="#c0c0c0"/><rect x="133" y="648" width="1" height="6" fill="#c0c0c0"/><rect x="137" y="648" width="1" height="9" fill="#c0c0c0"/><rect x="141" y="648" width="1" height="9" fill="#c0c0c0"/><rect x="145" y="648" width="1" height="8" fill="#c0c0c0"/><rect x="149" y="648" width="1" height="7" fill="#c0c0c0"/><rect x="153" y="648" width="1" height="6" fill="#c0c0c0"/><rect x="157" y="648" width="1" height="12" fill="#c0c0c0"/><rect x="161" y="648" width="1" height="16" fill="#c0c0c0"/><rect x="165" y="648" width="1" height="17" fill="#c0c0c0"/><rect x="169" y="648" width="1" height="18" fill="#c0c0c0"/><rect x="173" y="648" width="1" height="18" fill="#c0c0c0"/><rect x="177" y="648" width="1" height="16" fill="#c0c0c0"/><rect x="181" y="648" width="1" height="15" fill="#c0c0c0"/><rect x="185" y="648" width="1" height="12" fill="#c0c0c0"/><rect x="189" y="648" width="1" height="10" fill="#c0c0c0"/><rect x="193" y="648" width="1" height="7" fill="#c0c0c0"/><rect x="197" y="648" width="1" height="4" fill="#c0c0c0"/><rect x="205" y="644" width="1" height="5" fill="#c0c0c0"/><rect x="209" y="640" width="1" height="9" fill="#c0c0c0"/><rect x="213" y="638" width="1" height="11" fill="#c0c0c0"/><rect x="217" y="636" width="1" height="13" fill="#c0c0c0"/><rect x="221" y="636" width="1" height="13" fill="#c0c0c0"/><rect x="225" y="635" width="1" height="14" fill="#c0c0c0"/><rect x="229" y="636" width="1" height="13" fill="#c0c0c0"/><rect x="233" y="639" width="1" height="10" fill="#c0c0c0"/><rect x="237" y="642" width="1" height="7" fill="#c0c0c0"/><rect x="241" y="644" width="1" height="5" fill="#c0c0c0"/><rect x="245" y="644" width="1" height="5" fill="#c0c0c0"/><rect x="249" y="643" width="1" height="6" fill="#c0c0c0"/><rect x="253" y="646" width="1" height="3" fill="#c0c0c0"/><rect x="257" y="647" width="1" height="2" fill="#c0c0c0"/><rect x="261" y="648" width="1" height="7" fill="#c0c0c0"/><rect x="265" y="648" width="1" height="7" fill="#c0c0c0"/><rect x="269" y="648" width="1" height="7" fill="#c0c0c0"/><rect x="273" y="648" width="1" height="9" fill="#c0c0c0"/><rect x="277" y="648" width="1" height="9" fill="#c0c0c0"/><rect x="281" y="648" width="1" height="8" fill="#c0c0c0"/><rect x="285" y="648" width="1" height="7" fill="#c0c0c0"/><rect x="289" y="648" width="1" height="6" fill="#c0c0c0"/><rect x="293" y="648" width="1" height="5" fill="#c0c0c0"/><rect x="297" y="648" width="1" height="4" fill="#c0c0c0"/><rect x="301" y="648" width="1" height="3" fill="#c0c0c0"/><rect x="305" y="648" width="1" height="4" fill="#c0c0c0"/><rect x="309" y="648" width="1" height="5" fill="#c0c0c0"/><rect x="313" y="648" width="1" height="8" fill="#c0c0c0"/><rect x="317" y="648" width="1" height="8" fill="#c0c0c0"/><rect x="321" y="648" width="1" height="9" fill="#c0c0c0"/><rect x="325" y="648" width="1" height="8" fill="#c0c0c0"/><rect x="329" y="648" width="1" height="7" fill="#c0c0c0"/><rect x="333" y="648" width="1" height="8" fill="#c0c0c0"/><rect x="337" y="648" width="1" height="12" fill="#c0c0c0"/><rect x="341" y="648" width="1" height="13" fill="#c0c0c0"/><rect x="345" y="648" width="1" height="16" fill="#c0c0c0"/><rect x="349" y="648" width="1" height="17" fill="#c0c0c0"/><rect x="353" y="648" width="1" height="14" fill="#c0c0c0"/><rect x="357" y="648" width="1" height="12" fill="#c0c0c0"/><rect x="361" y="648" width="1" height="10" fill="#c0c0c0"/><rect x="365" y="648" width="1" height="11" fill="#c0c0c0"/><rect x="369" y="648" width="1" height="12" fill="#c0c0c0"/><rect x="373" y="648" width="1" height="13" fill="#c0c0c0"/><rect x="377" y="648" width="1" height="14" fill="#c0c0c0"/><rect x="381" y="648" width="1" height="14" fill="#c0c0c0"/><rect x="385" y="648" width="1" height="14" fill="#c0c0c0"/><rect x="389" y="648" width="1" height="15" fill="#c0c0c0"/><rect x="393" y="648" width="1" height="17" fill="#c0c0c0"/><rect x="397" y="648" width="1" height="14" fill="#c0c0c0"/><rect x="401" y="648" width="1" height="12" fill="#c0c0c0"/><rect x="405" y="648" width="1" height="10" fill="#c0c0c0"/><rect x="409" y="648" width="1" height="10" fill="#c0c0c0"/><rect x="413" y="648" width="1" height="11" fill="#c0c0c0"/><rect x="417" y="648" width="1" height="10" fill="#c0c0c0"/><rect x="421" y="648" width="1" height="9" fill="#c0c0c0"/><rect x="425" y="648" width="1" height="3" fill="#c0c0c0"/><rect x="429" y="643" width="1" height="6" fill="#c0c0c0"/><rect x="433" y="637" width="1" height="12" fill="#c0c0c0"/><rect x="437" y="633" width="1" height="16" fill="#c0c0c0"/><rect x="441" y="631" width="1" height="18" fill="#c0c0c0"/><rect x="445" y="626" width="1" height="23" fill="#c0c0c0"/><rect x="449" y="636" width="1" height="13" fill="#c0c0c0"/><rect x="453" y="642" width="1" height="7" fill="#c0c0c0"/><rect x="457" y="647" width="1" height="2" fill="#c0c0c0"/><rect x="461" y="648" width="1" height="2" fill="#c0c0c0"/><rect x="465" y="648" width="1" height="6" fill="#c0c0c0"/><rect x="469" y="648" width="1" height="7" fill="#c0c0c0"/><rect x="473" y="648" width="1" height="9" fill="#c0c0c0"/><rect x="477" y="648" width="1" height="10" fill="#c0c0c0"/><rect x="481" y="648" width="1" height="12" fill="#c0c0c0"/><rect x="485" y="648" width="1" height="14" fill="#c0c0c0"/><rect x="489" y="648" width="1" height="15" fill="#c0c0c0"/><rect x="493" y="648" width="1" height="15" fill="#c0c0c0"/><rect x="497" y="648" width="1" height="14" fill="#c0c0c0"/><rect x="501" y="648" width="1" height="16" fill="#c0c0c0"/><rect x="505" y="648" width="1" height="19" fill="#c0c0c0"/><rect x="509" y="648" width="1" height="19" fill="#c0c0c0"/><rect x="513" y="648" width="1" height="20" fill="#c0c0c0"/><rect x="517" y="648" width="1" height="28" fill="#c0c0c0"/><rect x="521" y="648" width="1" height="31" fill="#c0c0c0"/><rect x="525" y="648" width="1" height="34" fill="#c0c0c0"/><rect x="529" y="648" width="1" height="36" fill="#c0c0c0"/><rect x="533" y="648" width="1" height="37" fill="#c0c0c0"/><rect x="537" y="648" width="1" height="36" fill="#c0c0c0"/><rect x="541" y="648" width="1" height="36" fill="#c0c0c0"/><rect x="545" y="648" width="1" height="35" fill="#c0c0c0"/><rect x="549" y="648" width="1" height="36" fill="#c0c0c0"/><rect x="553" y="648" width="1" height="34" fill="#c0c0c0"/><rect x="557" y="648" width="1" height="32" fill="#c0c0c0"/><rect x="561" y="648" width="1" height="31" fill="#c0c0c0"/><rect x="565" y="648" width="1" height="30" fill="#c0c0c0"/><rect x="569" y="648" width="1" height="34" fill="#c0c0c0"/><rect x="573" y="648" width="1" height="38" fill="#c0c0c0"/><rect x="577" y="648" width="1" height="43" fill="#c0c0c0"/><rect x="581" y="648" width="1" height="46" fill="#c0c0c0"/><rect x="585" y="648" width="1" height="47" fill="#c0c0c0"/><rect x="589" y="648" width="1" height="47" fill="#c0c0c0"/><rect x="593" y="648" width="1" height="48" fill="#c0c0c0"/><rect x="597" y="648" width="1" height="50" fill="#c0c0c0"/><rect x="601" y="648" width="1" height="50" fill="#c0c0c0"/><rect x="605" y="648" width="1" height="51" fill="#c0c0c0"/><rect x="609" y="648" width="1" height="50" fill="#c0c0c0"/><rect x="613" y="648" width="1" height="49" fill="#c0c0c0"/><rect x="617" y="648" width="1" height="47" fill="#c0c0c0"/><rect x="621" y="648" width="1" height="45" fill="#c0c0c0"/><rect x="625" y="648" width="1" height="42" fill="#c0c0c0"/><rect x="629" y="648" width="1" height="38" fill="#c0c0c0"/><rect x="633" y="648" width="1" height="36" fill="#c0c0c0"/><rect x="637" y="648" width="1" height="36" fill="#c0c0c0"/><rect x="641" y="648" width="1" height="36" fill="#c0c0c0"/><rect x="645" y="648" width="1" height="34" fill="#c0c0c0"/><rect x="649" y="648" width="1" height="31" fill="#c0c0c0"/><rect x="653" y="648" width="1" height="28" fill="#c0c0c0"/><rect x="657" y="648" width="1" height="24" fill="#c0c0c0"/><rect x="661" y="648" width="1" height="20" fill="#c0c0c0"/><rect x="665" y="648" width="1" height="17" fill="#c0c0c0"/><rect x="669" y="648" width="1" height="15" fill="#c0c0c0"/><rect x="673" y="648" width="1" height="15" fill="#c0c0c0"/><rect x="677" y="648" width="1" height="14" fill="#c0c0c0"/><rect x="681" y="648" width="1" height="15" fill="#c0c0c0"/><rect x="685" y="648" width="1" height="14" fill="#c0c0c0"/><rect x="689" y="648" width="1" height="16" fill="#c0c0c0"/><rect x="693" y="648" width="1" height="18" fill="#c0c0c0"/><rect x="697" y="648" width="1" height="19" fill="#c0c0c0"/><rect x="701" y="648" width="1" height="20" fill="#c0c0c0"/><rect x="705" y="648" width="1" height="21" fill="#c0c0c0"/><rect x="709" y="648" width="1" height="24" fill="#c0c0c0"/><rect x="713" y="648" width="1" height="29" fill="#c0c0c0"/><rect x="717" y="648" width="1" height="34" fill="#c0c0c0"/><rect x="721" y="648" width="1" height="40" fill="#c0c0c0"/><rect x="725" y="648" width="1" height="42" fill="#c0c0c0"/><rect x="729" y="648" width="1" height="42" fill="#c0c0c0"/><rect x="733" y="648" width="1" height="43" fill="#c0c0c0"/><rect x="737" y="648" width="1" height="45" fill="#c0c0c0"/><rect x="741" y="648" width="1" height="47" fill="#c0c0c0"/><rect x="745" y="648" width="1" height="49" fill="#c0c0c0"/><rect x="749" y="648" width="1" height="50" fill="#c0c0c0"/><rect x="753" y="648" width="1" height="51" fill="#c0c0c0"/><rect x="757" y="648" width="1" height="52" fill="#c0c0c0"/><rect x="761" y="648" width="1" height="54" fill="#c0c0c0"/><rect x="765" y="648" width="1" height="53" fill="#c0c0c0"/><rect x="769" y="648" width="1" height="51" fill="#c0c0c0"/><rect x="773" y="648" width="1" height="50" fill="#c0c0c0"/><rect x="777" y="648" width="1" height="50" fill="#c0c0c0"/><rect x="781" y="648" width="1" height="49" fill="#c0c0c0"/><rect x="785" y="648" width="1" height="47" fill="#c0c0c0"/><rect x="789" y="648" width="1" height="45" fill="#c0c0c0"/><rect x="793" y="648" width="1" height="41" fill="#c0c0c0"/><rect x="797" y="648" width="1" height="37" fill="#c0c0c0"/><rect x="801" y="648" width="1" height="36" fill="#c0c0c0"/><rect x="805" y="648" width="1" height="37" fill="#c0c0c0"/><rect x="809" y="648" width="1" height="34" fill="#c0c0c0"/><rect x="813" y="648" width="1" height="30" fill="#c0c0c0"/><rect x="817" y="648" width="1" height="27" fill="#c0c0c0"/><rect x="821" y="648" width="1" height="23" fill="#c0c0c0"/><rect x="825" y="648" width="1" height="19" fill="#c0c0c0"/><rect x="829" y="648" width="1" height="17" fill="#c0c0c0"/><rect x="833" y="648" width="1" height="13" fill="#c0c0c0"/><rect x="837" y="648" width="1" height="8" fill="#c0c0c0"/><rect x="841" y="648" width="1" height="4" fill="#c0c0c0"/><rect x="853" y="648" width="1" height="5" fill="#c0c0c0"/><rect x="857" y="648" width="1" height="6" fill="#c0c0c0"/><rect x="861" y="648" width="1" height="7" fill="#c0c0c0"/><rect x="865" y="648" width="1" height="7" fill="#c0c0c0"/><rect x="869" y="648" width="1" height="8" fill="#c0c0c0"/><rect x="873" y="648" width="1" height="8" fill="#c0c0c0"/><rect x="877" y="648" width="1" height="12" fill="#c0c0c0"/><rect x="881" y="648" width="1" height="14" fill="#c0c0c0"/><rect x="885" y="648" width="1" height="17" fill="#c0c0c0"/><rect x="889" y="648" width="1" height="20" fill="#c0c0c0"/><rect x="893" y="648" width="1" height="23" fill="#c0c0c0"/><rect x="897" y="648" width="1" height="26" fill="#c0c0c0"/><rect x="901" y="648" width="1" height="26" fill="#c0c0c0"/><rect x="905" y="648" width="1" height="25" fill="#c0c0c0"/><rect x="909" y="648" width="1" height="24" fill="#c0c0c0"/><rect x="913" y="648" width="1" height="23" fill="#c0c0c0"/><rect x="917" y="648" width="1" height="20" fill="#c0c0c0"/><rect x="921" y="648" width="1" height="18" fill="#c0c0c0"/><rect x="925" y="648" width="1" height="16" fill="#c0c0c0"/><rect x="929" y="648" width="1" height="14" fill="#c0c0c0"/><rect x="933" y="648" width="1" height="9" fill="#c0c0c0"/><rect x="937" y="648" width="1" height="5" fill="#c0c0c0"/><rect x="941" y="648" width="1" height="2" fill="#c0c0c0"/><rect x="945" y="648" width="1" height="2" fill="#c0c0c0"/><rect x="953" y="648" width="1" height="5" fill="#c0c0c0"/><rect x="957" y="648" width="1" height="6" fill="#c0c0c0"/><rect x="961" y="648" width="1" height="7" fill="#c0c0c0"/><rect x="965" y="648" width="1" height="6" fill="#c0c0c0"/><rect x="969" y="648" width="1" height="7" fill="#c0c0c0"/><rect x="973" y="648" width="1" height="9" fill="#c0c0c0"/><rect x="977" y="648" width="1" height="9" fill="#c0c0c0"/><rect x="981" y="648" width="1" height="10" fill="#c0c0c0"/><rect x="985" y="648" width="1" height="9" fill="#c0c0c0"/><rect x="989" y="648" width="1" height="9" fill="#c0c0c0"/><rect x="993" y="648" width="1" height="9" fill="#c0c0c0"/><rect x="997" y="648" width="1" height="8" fill="#c0c0c0"/><rect x="1001" y="648" width="1" height="7" fill="#c0c0c0"/><rect x="1005" y="648" width="1" height="8" fill="#c0c0c0"/><rect x="1009" y="648" width="1" height="9" fill="#c0c0c0"/><rect x="1013" y="648" width="1" height="10" fill="#c0c0c0"/><rect x="1017" y="648" width="1" height="12" fill="#c0c0c0"/><rect x="1021" y="648" width="1" height="8" fill="#c0c0c0"/><rect x="1025" y="648" width="1" height="8" fill="#c0c0c0"/><rect x="1029" y="648" width="1" height="8" fill="#c0c0c0"/><rect x="1033" y="648" width="1" height="7" fill="#c0c0c0"/><rect x="1037" y="648" width="1" height="7" fill="#c0c0c0"/><rect x="1041" y="648" width="1" height="5" fill="#c0c0c0"/><rect x="1045" y="648" width="1" height="2" fill="#c0c0c0"/><rect x="1049" y="646" width="1" height="3" fill="#c0c0c0"/><rect x="1053" y="642" width="1" height="7" fill="#c0c0c0"/><rect x="1057" y="639" width="1" height="10" fill="#c0c0c0"/><rect x="1061" y="637" width="1" height="12" fill="#c0c0c0"/><rect x="1065" y="636" width="1" height="13" fill="#c0c0c0"/><rect x="1069" y="639" width="1" height="10" fill="#c0c0c0"/><rect x="1073" y="642" width="1" height="7" fill="#c0c0c0"/><rect x="1077" y="644" width="1" height="5" fill="#c0c0c0"/><rect x="1081" y="644" width="1" height="5" fill="#c0c0c0"/><rect x="1085" y="645" width="1" height="4" fill="#c0c0c0"/><rect x="1089" y="644" width="1" height="5" fill="#c0c0c0"/><rect x="1093" y="644" width="1" height="5" fill="#c0c0c0"/><rect x="1097" y="645" width="1" height="4" fill="#c0c0c0"/><rect x="1101" y="646" width="1" height="3" fill="#c0c0c0"/><rect x="1105" y="647" width="1" height="2" fill="#c0c0c0"/><rect x="1109" y="647" width="1" height="2" fill="#c0c0c0"/><rect x="1113" y="647" width="1" height="2" fill="#c0c0c0"/><rect x="1121" y="648" width="1" height="3" fill="#c0c0c0"/><rect x="1125" y="648" width="1" height="4" fill="#c0c0c0"/><rect x="1129" y="648" width="1" height="5" fill="#c0c0c0"/><rect x="1133" y="648" width="1" height="7" fill="#c0c0c0"/><rect x="1137" y="648" width="1" height="8" fill="#c0c0c0"/><rect x="1141" y="648" width="1" height="11" fill="#c0c0c0"/><rect x="1145" y="648" width="1" height="13" fill="#c0c0c0"/><rect x="1149" y="648" width="1" height="11" fill="#c0c0c0"/><rect x="1153" y="648" width="1" height="8" fill="#c0c0c0"/><rect x="1157" y="648" width="1" height="7" fill="#c0c0c0"/><rect x="1161" y="648" width="1" height="6" fill="#c0c0c0"/><rect x="1165" y="648" width="1" height="6" fill="#c0c0c0"/><rect x="1169" y="648" width="1" height="7" fill="#c0c0c0"/><rect x="1173" y="648" width="1" height="8" fill="#c0c0c0"/><rect x="1177" y="648" width="1" height="8" fill="#c0c0c0"/><rect x="1181" y="648" width="1" height="9" fill="#c0c0c0"/><rect x="1185" y="648" width="1" height="8" fill="#c0c0c0"/><rect x="1189" y="648" width="1" height="4" fill="#c0c0c0"/><rect x="1193" y="647" width="1" height="2" fill="#c0c0c0"/><rect x="1197" y="643" width="1" height="6" fill="#c0c0c0"/><rect x="1201" y="640" width="1" height="9" fill="#c0c0c0"/><rect x="1205" y="637" width="1" height="12" fill="#c0c0c0"/><rect x="1209" y="635" width="1" height="14" fill="#c0c0c0"/><rect x="1213" y="638" width="1" height="11" fill="#c0c0c0"/><rect x="1217" y="639" width="1" height="10" fill="#c0c0c0"/><rect x="1221" y="640" width="1" height="9" fill="#c0c0c0"/><rect x="1225" y="641" width="1" height="8" fill="#c0c0c0"/><rect x="1229" y="640" width="1" height="9" fill="#c0c0c0"/><rect x="1233" y="642" width="1" height="7" fill="#c0c0c0"/><rect x="1237" y="644" width="1" height="5" fill="#c0c0c0"/><rect x="1241" y="646" width="1" height="3" fill="#c0c0c0"/><rect x="1245" y="647" width="1" height="2" fill="#c0c0c0"/><rect x="1249" y="647" width="1" height="2" fill="#c0c0c0"/><rect x="1253" y="646" width="1" height="3" fill="#c0c0c0"/><rect x="1257" y="645" width="1" height="4" fill="#c0c0c0"/><rect x="1261" y="645" width="1" height="4" fill="#c0c0c0"/><rect x="1265" y="643" width="1" height="6" fill="#c0c0c0"/><rect x="1269" y="642" width="1" height="7" fill="#c0c0c0"/><rect x="1273" y="641" width="1" height="8" fill="#c0c0c0"/><rect x="1277" y="641" width="1" height="8" fill="#c0c0c0"/><rect x="1281" y="642" width="1" height="7" fill="#c0c0c0"/><rect x="1285" y="645" width="1" height="4" fill="#c0c0c0"/><rect x="1289" y="646" width="1" height="3" fill="#c0c0c0"/><rect x="1293" y="644" width="1" height="5" fill="#c0c0c0"/><rect x="1297" y="642" width="1" height="7" fill="#c0c0c0"/><rect x="1301" y="641" width="1" height="8" fill="#c0c0c0"/><rect x="1305" y="640" width="1" height="9" fill="#c0c0c0"/><rect x="1309" y="641" width="1" height="8" fill="#c0c0c0"/><rect x="1313" y="642" width="1" height="7" fill="#c0c0c0"/><rect x="1317" y="643" width="1" height="6" fill="#c0c0c0"/><rect x="1321" y="644" width="1" height="5" fill="#c0c0c0"/><rect x="1325" y="645" width="1" height="4" fill="#c0c0c0"/></g>
<polyline points="5.5,623.4 29.8,626.9 47.7,629.9 54.2,631.4 60.6,632.4 66.6,632.6 72.6,633.4 78.5,633.4 84.5,633.4 90.5,633.4 96.4,633.6 102.4,634.4 108.3,634.9 114.3,637.4 120.3,639.8 126.2,642.8 132.2,645.8 138.2,648.3 144.1,650.8 150.1,651.8 156.6,654.3 162.5,656.2 169.0,657.7 178.9,661.3 186.9,662.3 194.8,661.3 202.8,658.1 210.7,652.8 218.7,646.8 228.6,639.8 238.6,637.5 248.5,638.3 258.4,641.8 268.4,647.4 278.3,651.4 288.3,653.8 298.2,653.8 308.2,652.8 318.1,652.4 328.0,653.8 338.0,656.3 340.0,657.3 348.0,659.7 353.9,660.5 391.7,660.5 399.6,661.7 413.6,660.5 423.5,659.1 431.5,653.2 439.4,647.8 447.4,641.8 455.3,637.9 461.3,637.5 469.2,640.4 477.2,645.8 485.1,652.8 493.1,656.7 501.0,659.7 509.0,662.3 516.9,665.1 524.9,668.7 532.8,673.6 540.8,678.2 548.7,681.0 556.7,682.6 564.7,681.6 570.6,680.6 578.6,682.6 586.5,684.0 594.5,687.6 602.4,692.5 610.4,695.5 618.3,696.3 626.3,695.1 634.2,691.9 642.2,688.6 650.1,685.0 658.1,680.6 666.0,676.0 674.0,671.7 679.0,668.7 680.0,667.7 683.0,666.3 689.9,663.7 697.9,663.3 705.8,664.7 713.8,667.7 721.7,671.7 729.7,676.6 737.7,682.6 745.6,687.6 753.6,692.5 761.5,695.5 769.5,698.9 777.4,699.5 785.4,699.1 793.3,697.5 801.3,693.5 809.2,689.5 817.2,685.0 825.1,678.6 833.1,673.2 841.0,666.7 849.0,659.7 856.9,655.4 864.9,653.4 872.8,652.4 880.8,654.4 888.7,657.7 896.7,661.7 904.7,665.7 912.6,669.3 920.6,670.3 928.5,668.7 936.5,665.3 944.4,660.7 952.4,655.7 960.3,653.4 968.3,652.4 976.2,654.4 984.2,655.4 992.1,656.1 1008.0,656.3 1019.0,656.3 1020.0,656.3 1031.9,656.3 1043.9,655.4 1051.8,653.2 1059.8,648.2 1067.7,643.8 1075.7,640.8 1083.6,640.2 1091.6,640.4 1099.5,642.4 1107.5,644.2 1115.4,645.4 1123.4,646.4 1131.3,648.8 1139.3,651.2 1147.2,653.8 1155.2,655.4 1163.1,656.3 1171.1,656.3 1179.0,655.7 1187.0,654.8 1195.0,653.2 1202.9,649.4 1210.9,645.4 1218.8,641.4 1226.8,639.2 1234.7,638.5 1242.7,640.2 1250.6,642.8 1258.6,644.2 1268.5,644.4 1278.4,643.8 1288.4,643.4 1298.3,642.4 1306.3,641.2 1314.2,642.4 1322.2,642.4" fill="none" stroke="#ff0000" stroke-width="1" stroke-dasharray="3 3" shape-rendering="crispEdges"/>
<g shape-rendering="crispEdges" fill="none" stroke="#000" stroke-width="1"><rect x="4.5" y="25.5" width="1665" height="496"/><rect x="4.5" y="523.5" width="1665" height="91"/><rect x="4.5" y="616.5" width="1665" height="90"/></g>
<g shape-rendering="crispEdges">
<rect x="1670" y="56" width="2" height="1" fill="#000"/>
<rect x="1670" y="89" width="2" height="1" fill="#000"/>
<rect x="1670" y="122" width="2" height="1" fill="#000"/>
<rect x="1670" y="155" width="2" height="1" fill="#000"/>
<rect x="1670" y="188" width="2" height="1" fill="#000"/>
<rect x="1670" y="221" width="2" height="1" fill="#000"/>
<rect x="1670" y="254" width="2" height="1" fill="#000"/>
<rect x="1670" y="287" width="2" height="1" fill="#000"/>
<rect x="1670" y="320" width="2" height="1" fill="#000"/>
<rect x="1670" y="353" width="2" height="1" fill="#000"/>
<rect x="1670" y="386" width="2" height="1" fill="#000"/>
<rect x="1670" y="419" width="2" height="1" fill="#000"/>
<rect x="1670" y="452" width="2" height="1" fill="#000"/>
<rect x="1670" y="485" width="2" height="1" fill="#000"/>
<rect x="1670" y="518" width="2" height="1" fill="#000"/>
</g>
<text transform="translate(1675.5 59.8) rotate(0.05) scale(1 1.02)" font-size="9.2" fill="#000" stroke="#000" stroke-width="0.22" text-anchor="start" >1.26430</text>
<text transform="translate(1675.5 92.8) rotate(0.05) scale(1 1.02)" font-size="9.2" fill="#000" stroke="#000" stroke-width="0.22" text-anchor="start" >1.25970</text>
<text transform="translate(1675.5 125.8) rotate(0.05) scale(1 1.02)" font-size="9.2" fill="#000" stroke="#000" stroke-width="0.22" text-anchor="start" >1.25500</text>
<text transform="translate(1675.5 158.8) rotate(0.05) scale(1 1.02)" font-size="9.2" fill="#000" stroke="#000" stroke-width="0.22" text-anchor="start" >1.25040</text>
<text transform="translate(1675.5 191.8) rotate(0.05) scale(1 1.02)" font-size="9.2" fill="#000" stroke="#000" stroke-width="0.22" text-anchor="start" >1.24570</text>
<text transform="translate(1675.5 224.8) rotate(0.05) scale(1 1.02)" font-size="9.2" fill="#000" stroke="#000" stroke-width="0.22" text-anchor="start" >1.24110</text>
<text transform="translate(1675.5 257.8) rotate(0.05) scale(1 1.02)" font-size="9.2" fill="#000" stroke="#000" stroke-width="0.22" text-anchor="start" >1.23640</text>
<text transform="translate(1675.5 290.8) rotate(0.05) scale(1 1.02)" font-size="9.2" fill="#000" stroke="#000" stroke-width="0.22" text-anchor="start" >1.23180</text>
<text transform="translate(1675.5 323.8) rotate(0.05) scale(1 1.02)" font-size="9.2" fill="#000" stroke="#000" stroke-width="0.22" text-anchor="start" >1.22710</text>
<text transform="translate(1675.5 356.8) rotate(0.05) scale(1 1.02)" font-size="9.2" fill="#000" stroke="#000" stroke-width="0.22" text-anchor="start" >1.22250</text>
<text transform="translate(1675.5 389.8) rotate(0.05) scale(1 1.02)" font-size="9.2" fill="#000" stroke="#000" stroke-width="0.22" text-anchor="start" >1.21780</text>
<text transform="translate(1675.5 422.8) rotate(0.05) scale(1 1.02)" font-size="9.2" fill="#000" stroke="#000" stroke-width="0.22" text-anchor="start" >1.21320</text>
<text transform="translate(1675.5 455.8) rotate(0.05) scale(1 1.02)" font-size="9.2" fill="#000" stroke="#000" stroke-width="0.22" text-anchor="start" >1.20850</text>
<text transform="translate(1675.5 488.8) rotate(0.05) scale(1 1.02)" font-size="9.2" fill="#000" stroke="#000" stroke-width="0.22" text-anchor="start" >1.20390</text>
<text transform="translate(1675.5 521.8) rotate(0.05) scale(1 1.02)" font-size="9.2" fill="#000" stroke="#000" stroke-width="0.22" text-anchor="start" >1.19920</text>
<g shape-rendering="crispEdges"><rect x="1671" y="222" width="40" height="11" fill="#ff0000"/></g><text transform="translate(1675.5 230.8) rotate(0.05) scale(1 1.02)" font-size="9.2" fill="#fff" stroke="#fff" stroke-width="0.22" text-anchor="start" >1.24013</text>
<g shape-rendering="crispEdges"><rect x="1671" y="315" width="40" height="11" fill="#ff0000"/></g><text transform="translate(1675.5 323.8) rotate(0.05) scale(1 1.02)" font-size="9.2" fill="#fff" stroke="#fff" stroke-width="0.22" text-anchor="start" >1.22704</text>
<g shape-rendering="crispEdges"><rect x="1671" y="386" width="40" height="11" fill="#7fff00"/></g><text transform="translate(1675.5 394.8) rotate(0.05) scale(1 1.02)" font-size="9.2" fill="#fff" stroke="#fff" stroke-width="0.22" text-anchor="start" >1.21704</text>
<g shape-rendering="crispEdges"><rect x="1671" y="446" width="40" height="11" fill="#000000"/></g><text transform="translate(1675.5 454.8) rotate(0.05) scale(1 1.02)" font-size="9.2" fill="#fff" stroke="#fff" stroke-width="0.22" text-anchor="start" >1.20864</text>
<g shape-rendering="crispEdges"><rect x="1671" y="474" width="40" height="11" fill="#0000ff"/></g><text transform="translate(1675.5 482.8) rotate(0.05) scale(1 1.02)" font-size="9.2" fill="#fff" stroke="#fff" stroke-width="0.22" text-anchor="start" >1.20456</text>
<g shape-rendering="crispEdges"><rect x="1670" y="551" width="2" height="1" fill="#000"/><rect x="1670" y="587" width="2" height="1" fill="#000"/><rect x="1670" y="648" width="2" height="1" fill="#000"/><rect x="1670" y="525" width="1" height="1" fill="#000"/><rect x="1670" y="613" width="1" height="1" fill="#000"/><rect x="1670" y="618" width="1" height="1" fill="#000"/><rect x="1670" y="705" width="1" height="1" fill="#000"/></g>
<text transform="translate(1673.5 534) rotate(0.05) scale(1 1.02)" font-size="9.2" fill="#000" stroke="#000" stroke-width="0.22" text-anchor="start" >100</text>
<text transform="translate(1672.5 555) rotate(0.05) scale(1 1.02)" font-size="9.2" fill="#000" stroke="#000" stroke-width="0.22" text-anchor="start" >70</text>
<text transform="translate(1672.5 591) rotate(0.05) scale(1 1.02)" font-size="9.2" fill="#000" stroke="#000" stroke-width="0.22" text-anchor="start" >30</text>
<text transform="translate(1674 611) rotate(0.05) scale(1 1.02)" font-size="9.2" fill="#000" stroke="#000" stroke-width="0.22" text-anchor="start" >0</text>
<text transform="translate(1673.5 627) rotate(0.05) scale(1 1.02)" font-size="9.2" fill="#000" stroke="#000" stroke-width="0.22" text-anchor="start" >0.002807</text>
<text transform="translate(1673.5 652) rotate(0.05) scale(1 1.02)" font-size="9.2" fill="#000" stroke="#000" stroke-width="0.22" text-anchor="start" >0.00</text>
<text transform="translate(1673.5 703.5) rotate(0.05) scale(1 1.02)" font-size="9.2" fill="#000" stroke="#000" stroke-width="0.22" text-anchor="start" >-0.005418</text>
<path d="M8 32h7l-3.5 4z" fill="#000"/>
<text transform="translate(20.3 37) rotate(0.05) scale(1 1.02)" font-size="9.6" fill="#000" stroke="#000" stroke-width="0.22" text-anchor="start" >USDCAD,H4</text>
<text transform="translate(82 37) rotate(0.05) scale(1 1.02)" font-size="9.2" fill="#000" stroke="#000" stroke-width="0.22" text-anchor="start" >1.20894</text>
<text transform="translate(118.8 37) rotate(0.05) scale(1 1.02)" font-size="9.2" fill="#000" stroke="#000" stroke-width="0.22" text-anchor="start" >1.20910</text>
<text transform="translate(154.9 37) rotate(0.05) scale(1 1.02)" font-size="9.2" fill="#000" stroke="#000" stroke-width="0.22" text-anchor="start" >1.20864</text>
<text transform="translate(190.6 37) rotate(0.05) scale(1 1.02)" font-size="9.2" fill="#000" stroke="#000" stroke-width="0.22" text-anchor="start" >1.20864</text>
<text transform="translate(9 536) rotate(0.05) scale(1 1.02)" font-size="9.3" fill="#000" stroke="#000" stroke-width="0.22" text-anchor="start" >RSI(14) 47.5513</text>
<g shape-rendering="crispEdges">
<rect x="5" y="707" width="1" height="3" fill="#000"/>
<rect x="69" y="707" width="1" height="3" fill="#000"/>
<rect x="133" y="707" width="1" height="3" fill="#000"/>
<rect x="197" y="707" width="1" height="3" fill="#000"/>
<rect x="261" y="707" width="1" height="3" fill="#000"/>
<rect x="325" y="707" width="1" height="3" fill="#000"/>
<rect x="389" y="707" width="1" height="3" fill="#000"/>
<rect x="453" y="707" width="1" height="3" fill="#000"/>
<rect x="517" y="707" width="1" height="3" fill="#000"/>
<rect x="581" y="707" width="1" height="3" fill="#000"/>
<rect x="645" y="707" width="1" height="3" fill="#000"/>
<rect x="709" y="707" width="1" height="3" fill="#000"/>
<rect x="773" y="707" width="1" height="3" fill="#000"/>
<rect x="837" y="707" width="1" height="3" fill="#000"/>
<rect x="901" y="707" width="1" height="3" fill="#000"/>
<rect x="965" y="707" width="1" height="3" fill="#000"/>
<rect x="1029" y="707" width="1" height="3" fill="#000"/>
<rect x="1093" y="707" width="1" height="3" fill="#000"/>
<rect x="1157" y="707" width="1" height="3" fill="#000"/>
<rect x="1221" y="707" width="1" height="3" fill="#000"/>
<rect x="1285" y="707" width="1" height="3" fill="#000"/>
</g>
<text transform="translate(4 719) rotate(0.05) scale(1 1.02)" font-size="9.2" fill="#000" stroke="#000" stroke-width="0.22" text-anchor="start" >25 Mar 2021</text>
<text transform="translate(68 719) rotate(0.05) scale(1 1.02)" font-size="9.2" fill="#000" stroke="#000" stroke-width="0.22" text-anchor="start" >30 Mar 10:00</text>
<text transform="translate(132 719) rotate(0.05) scale(1 1.02)" font-size="9.2" fill="#000" stroke="#000" stroke-width="0.22" text-anchor="start" >2 Apr 00:00</text>
<text transform="translate(196 719) rotate(0.05) scale(1 1.02)" font-size="9.2" fill="#000" stroke="#000" stroke-width="0.22" text-anchor="start" >7 Apr 10:00</text>
<text transform="translate(260 719) rotate(0.05) scale(1 1.02)" font-size="9.2" fill="#000" stroke="#000" stroke-width="0.22" text-anchor="start" >10 Apr 00:00</text>
<text transform="translate(324 719) rotate(0.05) scale(1 1.02)" font-size="9.2" fill="#000" stroke="#000" stroke-width="0.22" text-anchor="start" >14 Apr 18:00</text>
<text transform="translate(388 719) rotate(0.05) scale(1 1.02)" font-size="9.2" fill="#000" stroke="#000" stroke-width="0.22" text-anchor="start" >19 Apr 11:00</text>
<text transform="translate(452 719) rotate(0.05) scale(1 1.02)" font-size="9.2" fill="#000" stroke="#000" stroke-width="0.22" text-anchor="start" >22 Apr 00:00</text>
<text transform="translate(516 719) rotate(0.05) scale(1 1.02)" font-size="9.2" fill="#000" stroke="#000" stroke-width="0.22" text-anchor="start" >26 Apr 19:00</text>
<text transform="translate(580 719) rotate(0.05) scale(1 1.02)" font-size="9.2" fill="#000" stroke="#000" stroke-width="0.22" text-anchor="start" >29 Apr 10:00</text>
<text transform="translate(644 719) rotate(0.05) scale(1 1.02)" font-size="9.2" fill="#000" stroke="#000" stroke-width="0.22" text-anchor="start" >4 May 00:00</text>
<text transform="translate(708 719) rotate(0.05) scale(1 1.02)" font-size="9.2" fill="#000" stroke="#000" stroke-width="0.22" text-anchor="start" >6 May 18:00</text>
<text transform="translate(772 719) rotate(0.05) scale(1 1.02)" font-size="9.2" fill="#000" stroke="#000" stroke-width="0.22" text-anchor="start" >11 May 10:00</text>
<text transform="translate(836 719) rotate(0.05) scale(1 1.02)" font-size="9.2" fill="#000" stroke="#000" stroke-width="0.22" text-anchor="start" >14 May 00:00</text>
<text transform="translate(900 719) rotate(0.05) scale(1 1.02)" font-size="9.2" fill="#000" stroke="#000" stroke-width="0.22" text-anchor="start" >18 May 18:00</text>
<text transform="translate(964 719) rotate(0.05) scale(1 1.02)" font-size="9.2" fill="#000" stroke="#000" stroke-width="0.22" text-anchor="start" >21 May 10:00</text>
<text transform="translate(1028 719) rotate(0.05) scale(1 1.02)" font-size="9.2" fill="#000" stroke="#000" stroke-width="0.22" text-anchor="start" >26 May 00:00</text>
<text transform="translate(1092 719) rotate(0.05) scale(1 1.02)" font-size="9.2" fill="#000" stroke="#000" stroke-width="0.22" text-anchor="start" >28 May 18:00</text>
<text transform="translate(1156 719) rotate(0.05) scale(1 1.02)" font-size="9.2" fill="#000" stroke="#000" stroke-width="0.22" text-anchor="start" >2 Jun 10:00</text>
<text transform="translate(1220 719) rotate(0.05) scale(1 1.02)" font-size="9.2" fill="#000" stroke="#000" stroke-width="0.22" text-anchor="start" >5 Jun 00:00</text>
<text transform="translate(1284 719) rotate(0.05) scale(1 1.02)" font-size="9.2" fill="#000" stroke="#000" stroke-width="0.22" text-anchor="start" >9 Jun 18:00</text>
</svg>
<div id="tabs"><div class="l0"></div><div class="l1"></div><div class="l2"></div><div class="l3"></div><div class="l4"></div><div class="e0"></div><div class="e1"></div><div id="acttab"></div><span class="tab" style="left:16.3px;letter-spacing:-0.1px">USDCHF,H4</span><span class="tab" style="left:104.5px;letter-spacing:0.2px">USDCNH,Daily</span><span class="tab" style="left:210.3px;letter-spacing:-0.11px">EURUSD,H4</span><span class="tab" style="left:301.5px;letter-spacing:0.2px">AUDUSD,H4</span><span class="tab act" style="left:393.5px;letter-spacing:-0.03px">USDCAD,H4</span><span class="tab" style="left:485.5px;letter-spacing:0.11px">XAUUSD,H1</span><span class="tab" style="left:576.6px;letter-spacing:0.17px">USOil,Daily</span><i class="sep" style="left:94px"></i><i class="sep" style="left:198px"></i><i class="sep" style="left:290px"></i><i class="sep" style="left:566px"></i><i class="sep" style="left:651px"></i>
<svg style="position:absolute;left:1680px;top:0px" width="31" height="25"><path d="M8.3 7.5v7l-3.6-3.5z" fill="#999"/><path d="M24 7.5v7l3.6-3.5z" fill="#999"/></svg>
</div>
</body></html>
